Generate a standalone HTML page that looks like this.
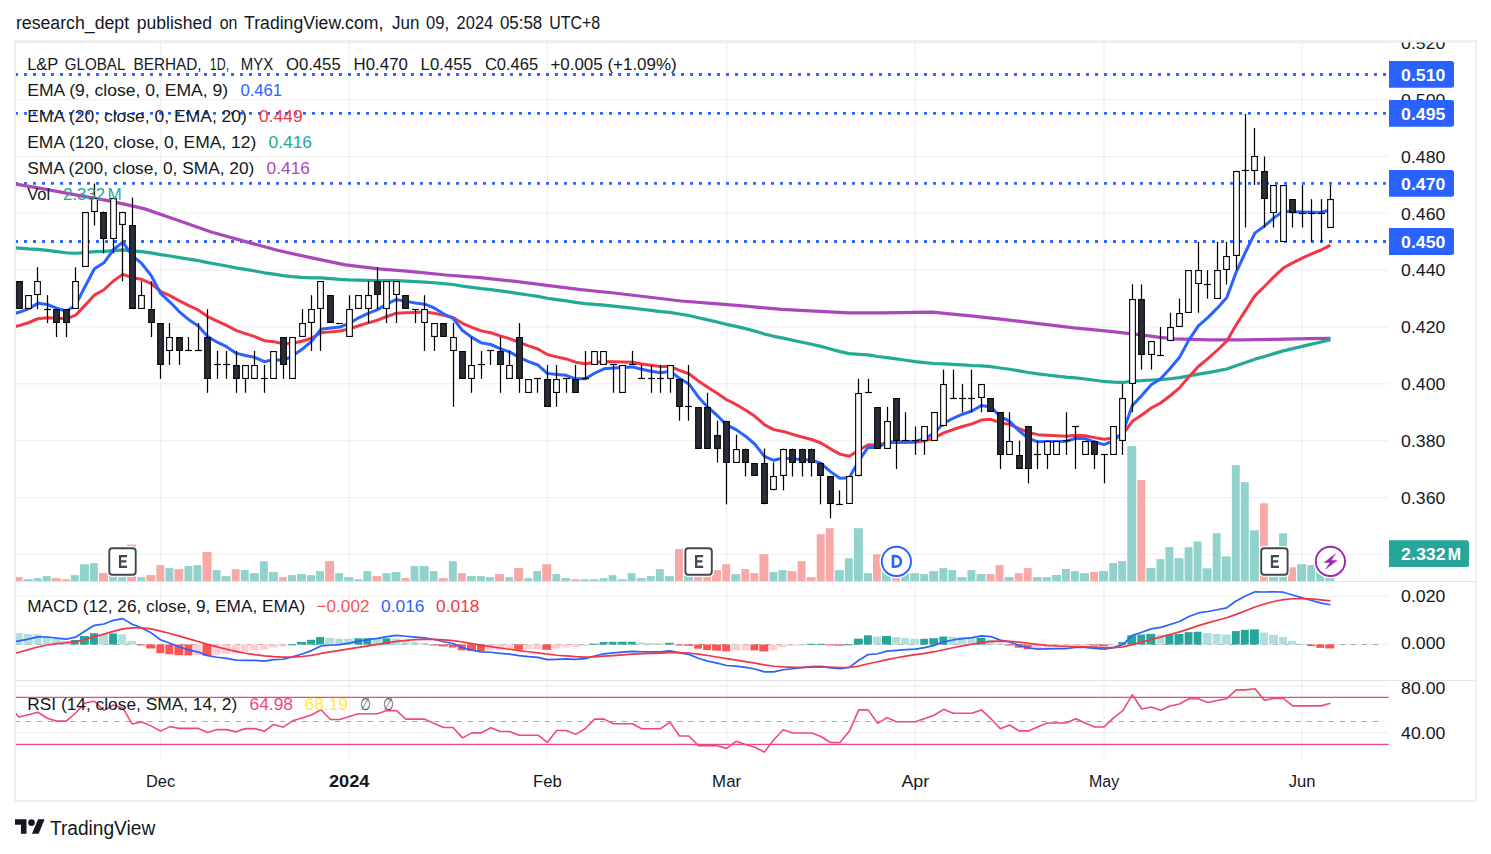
<!DOCTYPE html>
<html><head><meta charset="utf-8"><title>L&amp;P GLOBAL BERHAD chart</title><style>html,body{margin:0;padding:0;background:#fff}</style></head><body>
<svg width="1491" height="854" viewBox="0 0 1491 854" style="display:block">
<rect width="1491" height="854" fill="#fff"/>
<defs>
<clipPath id="cm"><rect x="16" y="42.6" width="1372.7" height="538.4"/></clipPath>
<clipPath id="cmacd"><rect x="16" y="582" width="1372.7" height="98.29999999999995"/></clipPath>
<clipPath id="crsi"><rect x="16" y="681" width="1372.7" height="78"/></clipPath>
<clipPath id="cax"><rect x="1388.7" y="42.6" width="86.79999999999995" height="538.4"/></clipPath>
</defs>
<rect x="159.93" y="42.6" width="1.2" height="716.4" fill="rgba(20,25,30,0.06)"/>
<rect x="348.62" y="42.6" width="1.2" height="716.4" fill="rgba(20,25,30,0.06)"/>
<rect x="546.76" y="42.6" width="1.2" height="716.4" fill="rgba(20,25,30,0.06)"/>
<rect x="726.02" y="42.6" width="1.2" height="716.4" fill="rgba(20,25,30,0.06)"/>
<rect x="914.73" y="42.6" width="1.2" height="716.4" fill="rgba(20,25,30,0.06)"/>
<rect x="1103.43" y="42.6" width="1.2" height="716.4" fill="rgba(20,25,30,0.06)"/>
<rect x="1301.56" y="42.6" width="1.2" height="716.4" fill="rgba(20,25,30,0.06)"/>
<rect x="16" y="42.2" width="1372.7" height="1.2" fill="rgba(20,25,30,0.06)"/>
<rect x="16" y="99.04" width="1372.7" height="1.2" fill="rgba(20,25,30,0.06)"/>
<rect x="16" y="155.88" width="1372.7" height="1.2" fill="rgba(20,25,30,0.06)"/>
<rect x="16" y="212.72" width="1372.7" height="1.2" fill="rgba(20,25,30,0.06)"/>
<rect x="16" y="269.56" width="1372.7" height="1.2" fill="rgba(20,25,30,0.06)"/>
<rect x="16" y="326.4" width="1372.7" height="1.2" fill="rgba(20,25,30,0.06)"/>
<rect x="16" y="383.24" width="1372.7" height="1.2" fill="rgba(20,25,30,0.06)"/>
<rect x="16" y="440.08" width="1372.7" height="1.2" fill="rgba(20,25,30,0.06)"/>
<rect x="16" y="496.92" width="1372.7" height="1.2" fill="rgba(20,25,30,0.06)"/>
<rect x="16" y="553.76" width="1372.7" height="1.2" fill="rgba(20,25,30,0.06)"/>
<rect x="16" y="595.7" width="1372.7" height="1.2" fill="rgba(20,25,30,0.06)"/>
<rect x="16" y="643.9" width="1372.7" height="1.2" fill="rgba(20,25,30,0.06)"/>
<rect x="16" y="685.12" width="1372.7" height="1.2" fill="rgba(20,25,30,0.06)"/>
<rect x="16" y="732.06" width="1372.7" height="1.2" fill="rgba(20,25,30,0.06)"/>
<g clip-path="url(#cm)">
<rect x="14.62" y="577.1" width="7.88" height="3.9" fill="#f7a9a7"/>
<rect x="23.62" y="579.2" width="9" height="1.8" fill="#92d2cc"/>
<rect x="33.75" y="578.1" width="7.88" height="2.9" fill="#92d2cc"/>
<rect x="42.75" y="576.1" width="7.88" height="4.9" fill="#92d2cc"/>
<rect x="51.75" y="578.1" width="9" height="2.9" fill="#f7a9a7"/>
<rect x="61.88" y="579.2" width="7.88" height="1.8" fill="#f7a9a7"/>
<rect x="70.88" y="575.1" width="7.88" height="5.9" fill="#92d2cc"/>
<rect x="79.88" y="564.2" width="9" height="16.8" fill="#92d2cc"/>
<rect x="90" y="563.2" width="7.88" height="17.8" fill="#92d2cc"/>
<rect x="99" y="573.1" width="9" height="7.9" fill="#f7a9a7"/>
<rect x="109.12" y="570.5" width="7.88" height="10.5" fill="#92d2cc"/>
<rect x="118.12" y="572" width="7.88" height="9" fill="#92d2cc"/>
<rect x="127.12" y="544.5" width="9" height="36.5" fill="#f7a9a7"/>
<rect x="137.25" y="577.1" width="7.88" height="3.9" fill="#92d2cc"/>
<rect x="146.25" y="575.1" width="9" height="5.9" fill="#f7a9a7"/>
<rect x="156.38" y="565.1" width="7.88" height="15.9" fill="#f7a9a7"/>
<rect x="165.38" y="568.1" width="7.88" height="12.9" fill="#92d2cc"/>
<rect x="174.38" y="569.1" width="9" height="11.9" fill="#f7a9a7"/>
<rect x="184.5" y="566.1" width="7.88" height="14.9" fill="#92d2cc"/>
<rect x="193.5" y="565.1" width="7.88" height="15.9" fill="#92d2cc"/>
<rect x="202.5" y="552" width="9" height="29" fill="#f7a9a7"/>
<rect x="212.62" y="570.1" width="7.88" height="10.9" fill="#92d2cc"/>
<rect x="221.62" y="576.1" width="9" height="4.9" fill="#92d2cc"/>
<rect x="231.75" y="569.1" width="7.88" height="11.9" fill="#f7a9a7"/>
<rect x="240.75" y="570.1" width="7.88" height="10.9" fill="#92d2cc"/>
<rect x="249.75" y="573.1" width="9" height="7.9" fill="#92d2cc"/>
<rect x="259.88" y="561.2" width="7.88" height="19.8" fill="#92d2cc"/>
<rect x="268.88" y="572.1" width="9" height="8.9" fill="#92d2cc"/>
<rect x="279" y="577.1" width="7.88" height="3.9" fill="#f7a9a7"/>
<rect x="288" y="575.1" width="7.88" height="5.9" fill="#92d2cc"/>
<rect x="297" y="574.1" width="9" height="6.9" fill="#92d2cc"/>
<rect x="307.12" y="575.1" width="7.88" height="5.9" fill="#92d2cc"/>
<rect x="316.12" y="571.1" width="7.88" height="9.9" fill="#92d2cc"/>
<rect x="325.12" y="561.2" width="9" height="19.8" fill="#f7a9a7"/>
<rect x="335.25" y="573.1" width="7.88" height="7.9" fill="#92d2cc"/>
<rect x="344.25" y="577.1" width="9" height="3.9" fill="#92d2cc"/>
<rect x="354.38" y="579.2" width="7.88" height="1.8" fill="#92d2cc"/>
<rect x="363.38" y="571.1" width="7.88" height="9.9" fill="#92d2cc"/>
<rect x="372.38" y="576.1" width="9" height="4.9" fill="#f7a9a7"/>
<rect x="382.5" y="573.1" width="7.88" height="7.9" fill="#92d2cc"/>
<rect x="391.5" y="572.1" width="9" height="8.9" fill="#92d2cc"/>
<rect x="401.62" y="578.1" width="7.88" height="2.9" fill="#f7a9a7"/>
<rect x="410.62" y="566.1" width="7.88" height="14.9" fill="#92d2cc"/>
<rect x="419.62" y="566.1" width="9" height="14.9" fill="#92d2cc"/>
<rect x="429.75" y="571.1" width="7.88" height="9.9" fill="#92d2cc"/>
<rect x="438.75" y="578.1" width="9" height="2.9" fill="#f7a9a7"/>
<rect x="448.88" y="561.2" width="7.88" height="19.8" fill="#92d2cc"/>
<rect x="457.88" y="573.1" width="7.88" height="7.9" fill="#f7a9a7"/>
<rect x="466.88" y="576.1" width="9" height="4.9" fill="#92d2cc"/>
<rect x="477" y="576.1" width="7.88" height="4.9" fill="#92d2cc"/>
<rect x="486" y="577.1" width="7.88" height="3.9" fill="#92d2cc"/>
<rect x="495" y="574.1" width="9" height="6.9" fill="#f7a9a7"/>
<rect x="505.12" y="577.1" width="7.88" height="3.9" fill="#92d2cc"/>
<rect x="514.12" y="568.1" width="9" height="12.9" fill="#f7a9a7"/>
<rect x="524.25" y="578.1" width="7.88" height="2.9" fill="#92d2cc"/>
<rect x="533.25" y="571.1" width="7.88" height="9.9" fill="#92d2cc"/>
<rect x="542.25" y="564.2" width="9" height="16.8" fill="#f7a9a7"/>
<rect x="552.38" y="574.1" width="7.88" height="6.9" fill="#92d2cc"/>
<rect x="561.38" y="578.1" width="9" height="2.9" fill="#92d2cc"/>
<rect x="571.5" y="579.2" width="7.88" height="1.8" fill="#f7a9a7"/>
<rect x="580.5" y="579.2" width="7.88" height="1.8" fill="#92d2cc"/>
<rect x="589.5" y="579.2" width="9" height="1.8" fill="#92d2cc"/>
<rect x="599.62" y="578.1" width="7.88" height="2.9" fill="#92d2cc"/>
<rect x="608.62" y="575.1" width="7.88" height="5.9" fill="#92d2cc"/>
<rect x="617.62" y="579.2" width="9" height="1.8" fill="#92d2cc"/>
<rect x="627.75" y="573.1" width="7.88" height="7.9" fill="#92d2cc"/>
<rect x="636.75" y="578.1" width="9" height="2.9" fill="#92d2cc"/>
<rect x="646.88" y="576.1" width="7.88" height="4.9" fill="#92d2cc"/>
<rect x="655.88" y="569.1" width="7.88" height="11.9" fill="#92d2cc"/>
<rect x="664.88" y="576.1" width="9" height="4.9" fill="#92d2cc"/>
<rect x="675" y="549.1" width="7.88" height="31.9" fill="#f7a9a7"/>
<rect x="684" y="576" width="9" height="5" fill="#92d2cc"/>
<rect x="694.12" y="557" width="7.88" height="24" fill="#f7a9a7"/>
<rect x="703.12" y="569" width="7.88" height="12" fill="#f7a9a7"/>
<rect x="712.12" y="570.1" width="9" height="10.9" fill="#f7a9a7"/>
<rect x="722.25" y="564.2" width="7.88" height="16.8" fill="#f7a9a7"/>
<rect x="731.25" y="574.1" width="9" height="6.9" fill="#92d2cc"/>
<rect x="741.38" y="569.1" width="7.88" height="11.9" fill="#f7a9a7"/>
<rect x="750.38" y="573.1" width="7.88" height="7.9" fill="#f7a9a7"/>
<rect x="759.38" y="554.2" width="9" height="26.8" fill="#f7a9a7"/>
<rect x="769.5" y="572.1" width="7.88" height="8.9" fill="#92d2cc"/>
<rect x="778.5" y="570.1" width="7.88" height="10.9" fill="#92d2cc"/>
<rect x="787.5" y="571.1" width="9" height="9.9" fill="#f7a9a7"/>
<rect x="797.62" y="561.2" width="7.88" height="19.8" fill="#f7a9a7"/>
<rect x="806.62" y="577.1" width="9" height="3.9" fill="#f7a9a7"/>
<rect x="816.75" y="534.2" width="7.88" height="46.8" fill="#f7a9a7"/>
<rect x="825.75" y="528.2" width="7.88" height="52.8" fill="#f7a9a7"/>
<rect x="834.75" y="570.1" width="9" height="10.9" fill="#92d2cc"/>
<rect x="844.88" y="558.2" width="7.88" height="22.8" fill="#92d2cc"/>
<rect x="853.88" y="528.2" width="9" height="52.8" fill="#92d2cc"/>
<rect x="864" y="573.1" width="7.88" height="7.9" fill="#92d2cc"/>
<rect x="873" y="554.2" width="7.88" height="26.8" fill="#f7a9a7"/>
<rect x="882" y="569" width="9" height="12" fill="#92d2cc"/>
<rect x="892.12" y="577" width="7.88" height="4" fill="#f7a9a7"/>
<rect x="901.12" y="572" width="7.88" height="9" fill="#92d2cc"/>
<rect x="910.12" y="573.1" width="9" height="7.9" fill="#92d2cc"/>
<rect x="920.25" y="574.1" width="7.88" height="6.9" fill="#92d2cc"/>
<rect x="929.25" y="571.1" width="9" height="9.9" fill="#92d2cc"/>
<rect x="939.38" y="568.1" width="7.88" height="12.9" fill="#92d2cc"/>
<rect x="948.38" y="570.1" width="7.88" height="10.9" fill="#92d2cc"/>
<rect x="957.38" y="577.1" width="9" height="3.9" fill="#92d2cc"/>
<rect x="967.5" y="570.1" width="7.88" height="10.9" fill="#92d2cc"/>
<rect x="976.5" y="574.1" width="9" height="6.9" fill="#92d2cc"/>
<rect x="986.62" y="574.1" width="7.88" height="6.9" fill="#f7a9a7"/>
<rect x="995.62" y="565.1" width="7.88" height="15.9" fill="#f7a9a7"/>
<rect x="1004.62" y="577.1" width="9" height="3.9" fill="#92d2cc"/>
<rect x="1014.75" y="573.1" width="7.88" height="7.9" fill="#f7a9a7"/>
<rect x="1023.75" y="568.1" width="7.88" height="12.9" fill="#f7a9a7"/>
<rect x="1032.75" y="577.1" width="9" height="3.9" fill="#92d2cc"/>
<rect x="1042.88" y="577.1" width="7.88" height="3.9" fill="#92d2cc"/>
<rect x="1051.88" y="575" width="9" height="6" fill="#92d2cc"/>
<rect x="1062" y="569" width="7.88" height="12" fill="#92d2cc"/>
<rect x="1071" y="571.1" width="7.88" height="9.9" fill="#92d2cc"/>
<rect x="1080" y="573.1" width="9" height="7.9" fill="#92d2cc"/>
<rect x="1090.12" y="572" width="7.88" height="9" fill="#f7a9a7"/>
<rect x="1099.12" y="571.1" width="9" height="9.9" fill="#92d2cc"/>
<rect x="1109.25" y="563" width="7.88" height="18" fill="#92d2cc"/>
<rect x="1118.25" y="561.1" width="7.88" height="19.9" fill="#92d2cc"/>
<rect x="1127.25" y="446.1" width="9" height="134.9" fill="#92d2cc"/>
<rect x="1137.38" y="480" width="7.88" height="101" fill="#f7a9a7"/>
<rect x="1146.38" y="568.1" width="9" height="12.9" fill="#92d2cc"/>
<rect x="1156.5" y="559.1" width="7.88" height="21.9" fill="#92d2cc"/>
<rect x="1165.5" y="547.1" width="7.88" height="33.9" fill="#92d2cc"/>
<rect x="1174.5" y="558.1" width="9" height="22.9" fill="#92d2cc"/>
<rect x="1184.62" y="547.1" width="7.88" height="33.9" fill="#92d2cc"/>
<rect x="1193.62" y="541.4" width="7.88" height="39.6" fill="#92d2cc"/>
<rect x="1202.62" y="568.3" width="9" height="12.7" fill="#92d2cc"/>
<rect x="1212.75" y="533.2" width="7.88" height="47.8" fill="#92d2cc"/>
<rect x="1221.75" y="556.4" width="9" height="24.6" fill="#92d2cc"/>
<rect x="1231.88" y="465.1" width="7.88" height="115.9" fill="#92d2cc"/>
<rect x="1240.88" y="482.2" width="7.88" height="98.8" fill="#92d2cc"/>
<rect x="1249.88" y="530.3" width="9" height="50.7" fill="#92d2cc"/>
<rect x="1260" y="503.3" width="7.88" height="77.7" fill="#f7a9a7"/>
<rect x="1269" y="559" width="9" height="22" fill="#92d2cc"/>
<rect x="1279.12" y="533.3" width="7.88" height="47.7" fill="#92d2cc"/>
<rect x="1288.12" y="567.3" width="7.88" height="13.7" fill="#f7a9a7"/>
<rect x="1297.12" y="564.2" width="9" height="16.8" fill="#92d2cc"/>
<rect x="1307.25" y="565.1" width="7.88" height="15.9" fill="#92d2cc"/>
<rect x="1316.25" y="567" width="7.88" height="14" fill="#92d2cc"/>
<rect x="1325.25" y="553.6" width="9" height="27.4" fill="#92d2cc"/>
<line x1="15.05" y1="74.5" x2="1388.7" y2="74.5" stroke="#2962ff" stroke-width="2.9" stroke-dasharray="2.9 6.1"/>
<line x1="15.05" y1="113.4" x2="1388.7" y2="113.4" stroke="#2962ff" stroke-width="2.9" stroke-dasharray="2.9 6.1"/>
<line x1="15.05" y1="183.4" x2="1388.7" y2="183.4" stroke="#2962ff" stroke-width="2.9" stroke-dasharray="2.9 6.1"/>
<line x1="15.05" y1="241.5" x2="1388.7" y2="241.5" stroke="#2962ff" stroke-width="2.9" stroke-dasharray="2.9 6.1"/>
<path d="M14 183.8 L16 184.1 L43.5 188.8 L77 195.2 L110.6 201.2 L144 208.6 L177.7 220.3 L211.2 232 L244.7 241.4 L278.3 250.5 L311.8 257.9 L345.3 264.9 L378.9 268.9 L412.4 271.6 L446 275 L480 277.6 L513.5 281.2 L547 285.3 L580.6 289.6 L614.1 293 L647.7 297 L681.2 301 L714.7 303.7 L748.3 306.4 L781.8 309.4 L815.3 311.1 L848.9 312.8 L882.4 312.8 L916 312.4 L932.7 312.1 L949.5 313.8 L973.5 316.1 L1007 319.8 L1040.6 323.8 L1074.1 327.9 L1107.7 331.2 L1141.2 334.9 L1158 337.2 L1174.7 338.9 L1208.3 339.9 L1241.8 339.9 L1275.3 339.3 L1308.9 338.6 L1330.5 338.4" fill="none" stroke="#ab47bc" stroke-width="3.25" stroke-linejoin="round"/>
<path d="M9.56 247.48 L19 248.1 L28.44 248.88 L37.87 249.41 L47.3 250.4 L56.74 251.6 L66.18 252.78 L75.61 253.25 L85.05 252.56 L94.48 251.65 L103.92 251.45 L113.35 250.56 L122.79 249.92 L132.22 250.89 L141.66 251.63 L151.09 252.81 L160.53 254.66 L169.96 256.02 L179.4 257.59 L188.83 259.13 L198.27 260.65 L207.7 262.61 L217.14 264.3 L226.57 265.96 L236.01 267.83 L245.44 269.43 L254.88 271.01 L264.31 272.79 L273.75 274.08 L283.18 275.58 L292.62 276.6 L302.05 277.37 L311.49 277.89 L320.92 277.95 L330.36 278.69 L339.79 279.43 L349.23 279.92 L358.66 280.17 L368.1 280.42 L377.53 280.66 L386.97 280.67 L396.4 280.68 L405.84 281.15 L415.27 281.61 L424.71 282.07 L434.14 282.75 L443.58 283.64 L453.01 284.53 L462.45 286.09 L471.88 287.39 L481.31 288.67 L490.75 289.7 L500.19 290.94 L509.62 292.16 L519.06 293.6 L528.49 295.01 L537.93 296.39 L547.36 298.22 L556.8 299.55 L566.23 300.86 L575.67 302.38 L585.1 303.64 L594.54 304.43 L603.97 305.19 L613.41 306.18 L622.84 307.15 L632.27 308.11 L641.71 309.28 L651.14 310.43 L660.58 311.56 L670.01 312.44 L679.45 314 L688.88 315.53 L698.32 317.73 L707.75 319.89 L717.19 322.02 L726.62 324.34 L736.06 326.39 L745.5 328.64 L754.93 331.09 L764.37 333.95 L773.8 336.31 L783.24 338.16 L792.67 340.22 L802.11 342.24 L811.54 344.23 L820.98 346.41 L830.41 349.02 L839.85 351.59 L849.28 353.66 L858.72 354.3 L868.15 354.94 L877.59 356.49 L887.02 357.55 L896.46 358.92 L905.89 360.27 L915.33 361.6 L924.76 362.67 L934.2 363.49 L943.63 363.83 L953.07 364.4 L962.5 364.95 L971.94 365.5 L981.37 365.8 L990.81 366.57 L1000.24 368.03 L1009.68 369.23 L1019.11 370.88 L1028.55 372.5 L1037.98 373.87 L1047.41 374.97 L1056.85 376.06 L1066.29 377.12 L1075.72 377.94 L1085.15 378.98 L1094.59 380.23 L1104.03 381.47 L1113.46 382.21 L1122.89 382.47 L1132.33 381.09 L1141.77 380.66 L1151.2 380.01 L1160.63 379.6 L1170.07 378.73 L1179.51 377.64 L1188.94 375.87 L1198.38 374.12 L1207.81 372.64 L1217.25 370.94 L1226.68 369.04 L1236.12 365.76 L1245.55 362.54 L1254.99 359.13 L1264.42 356.49 L1273.86 353.65 L1283.29 350.86 L1292.73 348.59 L1302.16 346.35 L1311.6 344.15 L1321.03 341.99 L1330.47 339.63" fill="none" stroke="#22ab94" stroke-width="3.2" stroke-linejoin="round"/>
<path d="M9.56 327.92 L19 325.6 L28.44 322.7 L37.87 318.75 L47.3 317.84 L56.74 318.34 L66.18 318.79 L75.61 315.21 L85.05 305.34 L94.48 295.07 L103.92 289.77 L113.35 280.99 L122.79 274.37 L132.22 277.68 L141.66 279.35 L151.09 283.52 L160.53 291.27 L169.96 295.62 L179.4 300.89 L188.83 305.66 L198.27 309.98 L207.7 316.54 L217.14 321.14 L226.57 325.31 L236.01 330.41 L245.44 333.69 L254.88 336.67 L264.31 340.68 L273.75 341.66 L283.18 343.88 L292.62 343.22 L302.05 341.3 L311.49 338.24 L320.92 332.81 L330.36 331.88 L339.79 331.04 L349.23 328.96 L358.66 325.74 L368.1 322.83 L377.53 320.2 L386.97 316.49 L396.4 313.13 L405.84 312.75 L415.27 312.4 L424.71 312.09 L434.14 313.14 L443.58 315.41 L453.01 317.47 L462.45 323.32 L471.88 327.28 L481.31 330.86 L490.75 332.77 L500.19 335.84 L509.62 338.6 L519.06 342.44 L528.49 345.9 L537.93 349.04 L547.36 354.54 L556.8 356.85 L566.23 358.95 L575.67 362.17 L585.1 363.76 L594.54 362.54 L603.97 361.44 L613.41 361.77 L622.84 362.07 L632.27 362.34 L641.71 363.91 L651.14 365.33 L660.58 366.62 L670.01 366.46 L679.45 370.29 L688.88 373.76 L698.32 380.89 L707.75 387.33 L717.19 393.17 L726.62 399.77 L736.06 404.42 L745.5 409.95 L754.93 416.29 L764.37 424.67 L773.8 429.6 L783.24 431.41 L792.67 434.37 L802.11 437.05 L811.54 439.48 L820.98 443 L830.41 448.84 L839.85 454.13 L849.28 456.26 L858.72 450.21 L868.15 444.74 L877.59 445.11 L887.02 442.78 L896.46 442.58 L905.89 442.4 L915.33 442.24 L924.76 440.73 L934.2 438.02 L943.63 432.86 L953.07 429.55 L962.5 426.55 L971.94 423.83 L981.37 420.02 L990.81 419.29 L1000.24 422.68 L1009.68 424.39 L1019.11 428.65 L1028.55 432.5 L1037.98 434.63 L1047.41 435.21 L1056.85 435.73 L1066.29 436.2 L1075.72 435.27 L1085.15 435.79 L1094.59 437.61 L1104.03 439.25 L1113.46 438.04 L1122.89 434.23 L1132.33 421.31 L1141.77 415.03 L1151.2 408 L1160.63 403 L1170.07 395.76 L1179.51 387.86 L1188.94 376.65 L1198.38 366.51 L1207.81 358.68 L1217.25 350.25 L1226.68 341.27 L1236.12 325.03 L1245.55 310.33 L1254.99 295.67 L1264.42 286.48 L1273.86 276.8 L1283.29 268.05 L1292.73 262.84 L1302.16 258.12 L1311.6 253.86 L1321.03 250 L1330.47 245.15" fill="none" stroke="#f23645" stroke-width="3.0" stroke-linejoin="round"/>
<path d="M9.56 315.04 L19 312.3 L28.44 308.88 L37.87 303.35 L47.3 304.51 L56.74 308.22 L66.18 311.19 L75.61 305.2 L85.05 286.46 L94.48 268.69 L103.92 262.83 L113.35 249.78 L122.79 242.13 L132.22 255.53 L141.66 263.46 L151.09 275.38 L160.53 293.29 L169.96 302.03 L179.4 311.82 L188.83 319.65 L198.27 325.91 L207.7 336.5 L217.14 342.18 L226.57 346.72 L236.01 353.15 L245.44 355.5 L254.88 357.38 L264.31 361.68 L273.75 359.53 L283.18 360.61 L292.62 355.89 L302.05 349.33 L311.49 341.29 L320.92 329.28 L330.36 328.04 L339.79 327.04 L349.23 323.46 L358.66 317.81 L368.1 313.28 L377.53 309.66 L386.97 303.98 L396.4 299.43 L405.84 301.37 L415.27 302.92 L424.71 304.16 L434.14 307.95 L443.58 313.76 L453.01 318.41 L462.45 330.5 L471.88 337.38 L481.31 342.89 L490.75 344.5 L500.19 348.58 L509.62 351.85 L519.06 357.25 L528.49 361.57 L537.93 365.02 L547.36 373.37 L556.8 374.46 L566.23 375.34 L575.67 378.83 L585.1 378.84 L594.54 373.26 L603.97 368.8 L613.41 368.02 L622.84 367.4 L632.27 366.9 L641.71 369.29 L651.14 371.2 L660.58 372.73 L670.01 371.17 L679.45 378.28 L688.88 383.97 L698.32 396.89 L707.75 407.23 L717.19 415.5 L726.62 424.9 L736.06 429.63 L745.5 436.21 L754.93 444.26 L764.37 456.28 L773.8 460.31 L783.24 457.97 L792.67 458.88 L802.11 459.6 L811.54 460.19 L820.98 463.44 L830.41 471.62 L839.85 478.17 L849.28 477.83 L858.72 460.82 L868.15 447.21 L877.59 447.49 L887.02 442.12 L896.46 441.84 L905.89 441.6 L915.33 441.42 L924.76 438.43 L934.2 433.2 L943.63 423.32 L953.07 418.27 L962.5 414.23 L971.94 410.99 L981.37 405.56 L990.81 406.9 L1000.24 416.5 L1009.68 421.33 L1019.11 430.89 L1028.55 438.53 L1037.98 441.8 L1047.41 441.58 L1056.85 441.4 L1066.29 441.25 L1075.72 438.3 L1085.15 438.77 L1094.59 442 L1104.03 444.58 L1113.46 440.95 L1122.89 432.37 L1132.33 405.61 L1141.77 395.58 L1151.2 384.7 L1160.63 378.85 L1170.07 368.48 L1179.51 357.34 L1188.94 339.9 L1198.38 325.95 L1207.81 317.64 L1217.25 308.14 L1226.68 297.7 L1236.12 272.3 L1245.55 251.98 L1254.99 232.88 L1264.42 226.13 L1273.86 217.88 L1283.29 211.28 L1292.73 211.69 L1302.16 212.02 L1311.6 212.28 L1321.03 212.49 L1330.47 209.81" fill="none" stroke="#2962ff" stroke-width="3.0" stroke-linejoin="round"/>
<rect x="16.1" y="281" width="6.8" height="28" fill="#000"/>
<rect x="17.2" y="282.1" width="4.6" height="25.8" fill="#2a2e39"/>
<rect x="25.1" y="295" width="6.8" height="14" fill="#000"/>
<rect x="26.2" y="296.1" width="4.6" height="11.8" fill="#fff"/>
<rect x="36.88" y="267.3" width="1.24" height="41.83" fill="#000"/>
<rect x="34.1" y="281" width="6.8" height="14" fill="#000"/>
<rect x="35.2" y="282.1" width="4.6" height="11.8" fill="#fff"/>
<rect x="46.88" y="295.18" width="1.24" height="27.89" fill="#000"/>
<rect x="44.1" y="308.9" width="6.8" height="1.2" fill="#000"/>
<rect x="55.88" y="309.13" width="1.24" height="27.89" fill="#000"/>
<rect x="53.1" y="309" width="6.8" height="14" fill="#000"/>
<rect x="54.2" y="310.1" width="4.6" height="11.8" fill="#2a2e39"/>
<rect x="65.88" y="309.13" width="1.24" height="27.89" fill="#000"/>
<rect x="63.1" y="309" width="6.8" height="14" fill="#000"/>
<rect x="64.2" y="310.1" width="4.6" height="11.8" fill="#2a2e39"/>
<rect x="74.88" y="267.3" width="1.24" height="41.83" fill="#000"/>
<rect x="72.1" y="281" width="6.8" height="28" fill="#000"/>
<rect x="73.2" y="282.1" width="4.6" height="25.8" fill="#fff"/>
<rect x="82.1" y="212" width="6.8" height="55" fill="#000"/>
<rect x="83.2" y="213.1" width="4.6" height="52.8" fill="#fff"/>
<rect x="93.88" y="183.63" width="1.24" height="41.83" fill="#000"/>
<rect x="91.1" y="198" width="6.8" height="14" fill="#000"/>
<rect x="92.2" y="199.1" width="4.6" height="11.8" fill="#fff"/>
<rect x="102.88" y="211.52" width="1.24" height="41.83" fill="#000"/>
<rect x="100.1" y="212" width="6.8" height="27" fill="#000"/>
<rect x="101.2" y="213.1" width="4.6" height="24.8" fill="#2a2e39"/>
<rect x="112.88" y="197.58" width="1.24" height="55.78" fill="#000"/>
<rect x="110.1" y="198" width="6.8" height="41" fill="#000"/>
<rect x="111.2" y="199.1" width="4.6" height="38.8" fill="#fff"/>
<rect x="121.88" y="211.52" width="1.24" height="69.72" fill="#000"/>
<rect x="119.1" y="212" width="6.8" height="13" fill="#000"/>
<rect x="120.2" y="213.1" width="4.6" height="10.8" fill="#fff"/>
<rect x="131.88" y="197.58" width="1.24" height="111.55" fill="#000"/>
<rect x="129.1" y="225" width="6.8" height="84" fill="#000"/>
<rect x="130.2" y="226.1" width="4.6" height="81.8" fill="#2a2e39"/>
<rect x="140.88" y="281.24" width="1.24" height="27.89" fill="#000"/>
<rect x="138.1" y="295" width="6.8" height="14" fill="#000"/>
<rect x="139.2" y="296.1" width="4.6" height="11.8" fill="#fff"/>
<rect x="150.88" y="281.24" width="1.24" height="55.78" fill="#000"/>
<rect x="148.1" y="309" width="6.8" height="14" fill="#000"/>
<rect x="149.2" y="310.1" width="4.6" height="11.8" fill="#2a2e39"/>
<rect x="159.88" y="323.07" width="1.24" height="55.78" fill="#000"/>
<rect x="157.1" y="323" width="6.8" height="42" fill="#000"/>
<rect x="158.2" y="324.1" width="4.6" height="39.8" fill="#2a2e39"/>
<rect x="168.88" y="323.07" width="1.24" height="41.83" fill="#000"/>
<rect x="166.1" y="337" width="6.8" height="14" fill="#000"/>
<rect x="167.2" y="338.1" width="4.6" height="11.8" fill="#fff"/>
<rect x="178.88" y="337.02" width="1.24" height="27.89" fill="#000"/>
<rect x="176.1" y="337" width="6.8" height="14" fill="#000"/>
<rect x="177.2" y="338.1" width="4.6" height="11.8" fill="#2a2e39"/>
<rect x="187.88" y="337.02" width="1.24" height="13.94" fill="#000"/>
<rect x="185.1" y="349.9" width="6.8" height="1.2" fill="#000"/>
<rect x="197.88" y="323.07" width="1.24" height="27.89" fill="#000"/>
<rect x="195.1" y="349.9" width="6.8" height="1.2" fill="#000"/>
<rect x="206.88" y="309.13" width="1.24" height="83.67" fill="#000"/>
<rect x="204.1" y="337" width="6.8" height="42" fill="#000"/>
<rect x="205.2" y="338.1" width="4.6" height="39.8" fill="#2a2e39"/>
<rect x="216.88" y="350.96" width="1.24" height="27.89" fill="#000"/>
<rect x="214.1" y="363.9" width="6.8" height="1.2" fill="#000"/>
<rect x="225.88" y="350.96" width="1.24" height="27.89" fill="#000"/>
<rect x="223.1" y="363.9" width="6.8" height="1.2" fill="#000"/>
<rect x="235.88" y="350.96" width="1.24" height="41.83" fill="#000"/>
<rect x="233.1" y="365" width="6.8" height="14" fill="#000"/>
<rect x="234.2" y="366.1" width="4.6" height="11.8" fill="#2a2e39"/>
<rect x="244.88" y="364.91" width="1.24" height="27.89" fill="#000"/>
<rect x="242.1" y="365" width="6.8" height="14" fill="#000"/>
<rect x="243.2" y="366.1" width="4.6" height="11.8" fill="#fff"/>
<rect x="253.88" y="350.96" width="1.24" height="27.89" fill="#000"/>
<rect x="251.1" y="365" width="6.8" height="14" fill="#000"/>
<rect x="252.2" y="366.1" width="4.6" height="11.8" fill="#fff"/>
<rect x="263.88" y="364.91" width="1.24" height="27.89" fill="#000"/>
<rect x="261.1" y="377.9" width="6.8" height="1.2" fill="#000"/>
<rect x="270.1" y="351" width="6.8" height="28" fill="#000"/>
<rect x="271.2" y="352.1" width="4.6" height="25.8" fill="#fff"/>
<rect x="282.88" y="337.02" width="1.24" height="41.83" fill="#000"/>
<rect x="280.1" y="337" width="6.8" height="28" fill="#000"/>
<rect x="281.2" y="338.1" width="4.6" height="25.8" fill="#2a2e39"/>
<rect x="289.1" y="337" width="6.8" height="42" fill="#000"/>
<rect x="290.2" y="338.1" width="4.6" height="39.8" fill="#fff"/>
<rect x="301.88" y="309.13" width="1.24" height="27.89" fill="#000"/>
<rect x="299.1" y="323" width="6.8" height="14" fill="#000"/>
<rect x="300.2" y="324.1" width="4.6" height="11.8" fill="#fff"/>
<rect x="310.88" y="295.18" width="1.24" height="55.78" fill="#000"/>
<rect x="308.1" y="309" width="6.8" height="14" fill="#000"/>
<rect x="309.2" y="310.1" width="4.6" height="11.8" fill="#fff"/>
<rect x="319.88" y="281.24" width="1.24" height="69.72" fill="#000"/>
<rect x="317.1" y="281" width="6.8" height="28" fill="#000"/>
<rect x="318.2" y="282.1" width="4.6" height="25.8" fill="#fff"/>
<rect x="327.1" y="295" width="6.8" height="28" fill="#000"/>
<rect x="328.2" y="296.1" width="4.6" height="25.8" fill="#2a2e39"/>
<rect x="336.1" y="322.9" width="6.8" height="1.2" fill="#000"/>
<rect x="348.88" y="295.18" width="1.24" height="41.83" fill="#000"/>
<rect x="346.1" y="309" width="6.8" height="28" fill="#000"/>
<rect x="347.2" y="310.1" width="4.6" height="25.8" fill="#fff"/>
<rect x="355.1" y="295" width="6.8" height="14" fill="#000"/>
<rect x="356.2" y="296.1" width="4.6" height="11.8" fill="#fff"/>
<rect x="367.88" y="281.24" width="1.24" height="41.83" fill="#000"/>
<rect x="365.1" y="295" width="6.8" height="14" fill="#000"/>
<rect x="366.2" y="296.1" width="4.6" height="11.8" fill="#fff"/>
<rect x="376.88" y="267.3" width="1.24" height="41.83" fill="#000"/>
<rect x="374.1" y="281" width="6.8" height="14" fill="#000"/>
<rect x="375.2" y="282.1" width="4.6" height="11.8" fill="#2a2e39"/>
<rect x="385.88" y="281.24" width="1.24" height="41.83" fill="#000"/>
<rect x="383.1" y="281" width="6.8" height="28" fill="#000"/>
<rect x="384.2" y="282.1" width="4.6" height="25.8" fill="#fff"/>
<rect x="395.88" y="281.24" width="1.24" height="41.83" fill="#000"/>
<rect x="393.1" y="281" width="6.8" height="14" fill="#000"/>
<rect x="394.2" y="282.1" width="4.6" height="11.8" fill="#fff"/>
<rect x="402.1" y="295" width="6.8" height="14" fill="#000"/>
<rect x="403.2" y="296.1" width="4.6" height="11.8" fill="#2a2e39"/>
<rect x="414.88" y="309.13" width="1.24" height="13.94" fill="#000"/>
<rect x="412.1" y="308.9" width="6.8" height="1.2" fill="#000"/>
<rect x="423.88" y="295.18" width="1.24" height="55.78" fill="#000"/>
<rect x="421.1" y="309" width="6.8" height="14" fill="#000"/>
<rect x="422.2" y="310.1" width="4.6" height="11.8" fill="#fff"/>
<rect x="433.88" y="323.07" width="1.24" height="27.89" fill="#000"/>
<rect x="431.1" y="323" width="6.8" height="14" fill="#000"/>
<rect x="432.2" y="324.1" width="4.6" height="11.8" fill="#fff"/>
<rect x="440.1" y="323" width="6.8" height="14" fill="#000"/>
<rect x="441.2" y="324.1" width="4.6" height="11.8" fill="#2a2e39"/>
<rect x="452.88" y="323.07" width="1.24" height="83.67" fill="#000"/>
<rect x="450.1" y="337" width="6.8" height="14" fill="#000"/>
<rect x="451.2" y="338.1" width="4.6" height="11.8" fill="#fff"/>
<rect x="459.1" y="351" width="6.8" height="28" fill="#000"/>
<rect x="460.2" y="352.1" width="4.6" height="25.8" fill="#2a2e39"/>
<rect x="470.88" y="337.02" width="1.24" height="55.78" fill="#000"/>
<rect x="468.1" y="365" width="6.8" height="14" fill="#000"/>
<rect x="469.2" y="366.1" width="4.6" height="11.8" fill="#fff"/>
<rect x="480.88" y="350.96" width="1.24" height="27.89" fill="#000"/>
<rect x="478.1" y="363.9" width="6.8" height="1.2" fill="#000"/>
<rect x="489.88" y="350.96" width="1.24" height="13.94" fill="#000"/>
<rect x="487.1" y="349.9" width="6.8" height="1.2" fill="#000"/>
<rect x="499.88" y="337.02" width="1.24" height="55.78" fill="#000"/>
<rect x="497.1" y="351" width="6.8" height="14" fill="#000"/>
<rect x="498.2" y="352.1" width="4.6" height="11.8" fill="#2a2e39"/>
<rect x="508.88" y="350.96" width="1.24" height="27.89" fill="#000"/>
<rect x="506.1" y="365" width="6.8" height="14" fill="#000"/>
<rect x="507.2" y="366.1" width="4.6" height="11.8" fill="#fff"/>
<rect x="518.88" y="323.07" width="1.24" height="69.72" fill="#000"/>
<rect x="516.1" y="337" width="6.8" height="42" fill="#000"/>
<rect x="517.2" y="338.1" width="4.6" height="39.8" fill="#2a2e39"/>
<rect x="525.1" y="379" width="6.8" height="14" fill="#000"/>
<rect x="526.2" y="380.1" width="4.6" height="11.8" fill="#fff"/>
<rect x="536.88" y="378.85" width="1.24" height="13.94" fill="#000"/>
<rect x="534.1" y="377.9" width="6.8" height="1.2" fill="#000"/>
<rect x="546.88" y="364.91" width="1.24" height="41.83" fill="#000"/>
<rect x="544.1" y="379" width="6.8" height="28" fill="#000"/>
<rect x="545.2" y="380.1" width="4.6" height="25.8" fill="#2a2e39"/>
<rect x="555.88" y="364.91" width="1.24" height="41.83" fill="#000"/>
<rect x="553.1" y="379" width="6.8" height="14" fill="#000"/>
<rect x="554.2" y="380.1" width="4.6" height="11.8" fill="#fff"/>
<rect x="565.88" y="378.85" width="1.24" height="13.94" fill="#000"/>
<rect x="563.1" y="377.9" width="6.8" height="1.2" fill="#000"/>
<rect x="574.88" y="364.91" width="1.24" height="27.89" fill="#000"/>
<rect x="572.1" y="379" width="6.8" height="14" fill="#000"/>
<rect x="573.2" y="380.1" width="4.6" height="11.8" fill="#2a2e39"/>
<rect x="584.88" y="350.96" width="1.24" height="27.89" fill="#000"/>
<rect x="582.1" y="377.9" width="6.8" height="1.2" fill="#000"/>
<rect x="591.1" y="351" width="6.8" height="14" fill="#000"/>
<rect x="592.2" y="352.1" width="4.6" height="11.8" fill="#fff"/>
<rect x="600.1" y="351" width="6.8" height="14" fill="#000"/>
<rect x="601.2" y="352.1" width="4.6" height="11.8" fill="#fff"/>
<rect x="612.88" y="364.91" width="1.24" height="27.89" fill="#000"/>
<rect x="610.1" y="363.9" width="6.8" height="1.2" fill="#000"/>
<rect x="619.1" y="365" width="6.8" height="28" fill="#000"/>
<rect x="620.2" y="366.1" width="4.6" height="25.8" fill="#fff"/>
<rect x="631.88" y="350.96" width="1.24" height="13.94" fill="#000"/>
<rect x="629.1" y="363.9" width="6.8" height="1.2" fill="#000"/>
<rect x="640.88" y="364.91" width="1.24" height="13.94" fill="#000"/>
<rect x="638.1" y="377.9" width="6.8" height="1.2" fill="#000"/>
<rect x="650.88" y="364.91" width="1.24" height="27.89" fill="#000"/>
<rect x="648.1" y="377.9" width="6.8" height="1.2" fill="#000"/>
<rect x="659.88" y="364.91" width="1.24" height="27.89" fill="#000"/>
<rect x="657.1" y="377.9" width="6.8" height="1.2" fill="#000"/>
<rect x="669.88" y="364.91" width="1.24" height="27.89" fill="#000"/>
<rect x="667.1" y="365" width="6.8" height="14" fill="#000"/>
<rect x="668.2" y="366.1" width="4.6" height="11.8" fill="#fff"/>
<rect x="678.88" y="378.85" width="1.24" height="41.83" fill="#000"/>
<rect x="676.1" y="379" width="6.8" height="28" fill="#000"/>
<rect x="677.2" y="380.1" width="4.6" height="25.8" fill="#2a2e39"/>
<rect x="687.88" y="364.91" width="1.24" height="55.78" fill="#000"/>
<rect x="685.1" y="405.9" width="6.8" height="1.2" fill="#000"/>
<rect x="695.1" y="407" width="6.8" height="42" fill="#000"/>
<rect x="696.2" y="408.1" width="4.6" height="39.8" fill="#2a2e39"/>
<rect x="706.88" y="392.79" width="1.24" height="55.78" fill="#000"/>
<rect x="704.1" y="407" width="6.8" height="42" fill="#000"/>
<rect x="705.2" y="408.1" width="4.6" height="39.8" fill="#2a2e39"/>
<rect x="716.88" y="420.68" width="1.24" height="41.83" fill="#000"/>
<rect x="714.1" y="435" width="6.8" height="14" fill="#000"/>
<rect x="715.2" y="436.1" width="4.6" height="11.8" fill="#2a2e39"/>
<rect x="725.88" y="420.68" width="1.24" height="83.67" fill="#000"/>
<rect x="723.1" y="421" width="6.8" height="42" fill="#000"/>
<rect x="724.2" y="422.1" width="4.6" height="39.8" fill="#2a2e39"/>
<rect x="735.88" y="434.63" width="1.24" height="27.89" fill="#000"/>
<rect x="733.1" y="449" width="6.8" height="14" fill="#000"/>
<rect x="734.2" y="450.1" width="4.6" height="11.8" fill="#fff"/>
<rect x="744.88" y="448.57" width="1.24" height="27.89" fill="#000"/>
<rect x="742.1" y="449" width="6.8" height="14" fill="#000"/>
<rect x="743.2" y="450.1" width="4.6" height="11.8" fill="#2a2e39"/>
<rect x="751.1" y="463" width="6.8" height="13" fill="#000"/>
<rect x="752.2" y="464.1" width="4.6" height="10.8" fill="#2a2e39"/>
<rect x="763.88" y="448.57" width="1.24" height="55.78" fill="#000"/>
<rect x="761.1" y="463" width="6.8" height="41" fill="#000"/>
<rect x="762.2" y="464.1" width="4.6" height="38.8" fill="#2a2e39"/>
<rect x="772.88" y="462.51" width="1.24" height="27.89" fill="#000"/>
<rect x="770.1" y="476" width="6.8" height="14" fill="#000"/>
<rect x="771.2" y="477.1" width="4.6" height="11.8" fill="#fff"/>
<rect x="782.88" y="448.57" width="1.24" height="41.83" fill="#000"/>
<rect x="780.1" y="449" width="6.8" height="27" fill="#000"/>
<rect x="781.2" y="450.1" width="4.6" height="24.8" fill="#fff"/>
<rect x="791.88" y="448.57" width="1.24" height="27.89" fill="#000"/>
<rect x="789.1" y="449" width="6.8" height="14" fill="#000"/>
<rect x="790.2" y="450.1" width="4.6" height="11.8" fill="#2a2e39"/>
<rect x="801.88" y="448.57" width="1.24" height="27.89" fill="#000"/>
<rect x="799.1" y="449" width="6.8" height="14" fill="#000"/>
<rect x="800.2" y="450.1" width="4.6" height="11.8" fill="#2a2e39"/>
<rect x="810.88" y="448.57" width="1.24" height="27.89" fill="#000"/>
<rect x="808.1" y="449" width="6.8" height="14" fill="#000"/>
<rect x="809.2" y="450.1" width="4.6" height="11.8" fill="#2a2e39"/>
<rect x="819.88" y="462.51" width="1.24" height="41.83" fill="#000"/>
<rect x="817.1" y="463" width="6.8" height="13" fill="#000"/>
<rect x="818.2" y="464.1" width="4.6" height="10.8" fill="#2a2e39"/>
<rect x="829.88" y="476.46" width="1.24" height="41.83" fill="#000"/>
<rect x="827.1" y="476" width="6.8" height="28" fill="#000"/>
<rect x="828.2" y="477.1" width="4.6" height="25.8" fill="#2a2e39"/>
<rect x="838.88" y="490.4" width="1.24" height="13.94" fill="#000"/>
<rect x="836.1" y="503.9" width="6.8" height="1.2" fill="#000"/>
<rect x="846.1" y="476" width="6.8" height="28" fill="#000"/>
<rect x="847.2" y="477.1" width="4.6" height="25.8" fill="#fff"/>
<rect x="857.88" y="378.85" width="1.24" height="97.61" fill="#000"/>
<rect x="855.1" y="393" width="6.8" height="83" fill="#000"/>
<rect x="856.2" y="394.1" width="4.6" height="80.8" fill="#fff"/>
<rect x="867.88" y="378.85" width="1.24" height="13.94" fill="#000"/>
<rect x="865.1" y="391.9" width="6.8" height="1.2" fill="#000"/>
<rect x="874.1" y="407" width="6.8" height="42" fill="#000"/>
<rect x="875.2" y="408.1" width="4.6" height="39.8" fill="#2a2e39"/>
<rect x="886.88" y="406.74" width="1.24" height="41.83" fill="#000"/>
<rect x="884.1" y="421" width="6.8" height="28" fill="#000"/>
<rect x="885.2" y="422.1" width="4.6" height="25.8" fill="#fff"/>
<rect x="895.88" y="398.05" width="1.24" height="71.05" fill="#000"/>
<rect x="893.1" y="398" width="6.8" height="43" fill="#000"/>
<rect x="894.2" y="399.1" width="4.6" height="40.8" fill="#2a2e39"/>
<rect x="904.88" y="412.26" width="1.24" height="28.42" fill="#000"/>
<rect x="902.1" y="439.9" width="6.8" height="1.2" fill="#000"/>
<rect x="914.88" y="426.47" width="1.24" height="28.42" fill="#000"/>
<rect x="912.1" y="439.9" width="6.8" height="1.2" fill="#000"/>
<rect x="923.88" y="426.47" width="1.24" height="28.42" fill="#000"/>
<rect x="921.1" y="426" width="6.8" height="15" fill="#000"/>
<rect x="922.2" y="427.1" width="4.6" height="12.8" fill="#fff"/>
<rect x="931.1" y="412" width="6.8" height="29" fill="#000"/>
<rect x="932.2" y="413.1" width="4.6" height="26.8" fill="#fff"/>
<rect x="942.88" y="369.63" width="1.24" height="56.84" fill="#000"/>
<rect x="940.1" y="384" width="6.8" height="42" fill="#000"/>
<rect x="941.2" y="385.1" width="4.6" height="39.8" fill="#fff"/>
<rect x="952.88" y="369.63" width="1.24" height="28.42" fill="#000"/>
<rect x="950.1" y="397.9" width="6.8" height="1.2" fill="#000"/>
<rect x="961.88" y="383.84" width="1.24" height="28.42" fill="#000"/>
<rect x="959.1" y="397.9" width="6.8" height="1.2" fill="#000"/>
<rect x="970.88" y="369.63" width="1.24" height="42.63" fill="#000"/>
<rect x="968.1" y="397.9" width="6.8" height="1.2" fill="#000"/>
<rect x="980.88" y="383.84" width="1.24" height="28.42" fill="#000"/>
<rect x="978.1" y="384" width="6.8" height="14" fill="#000"/>
<rect x="979.2" y="385.1" width="4.6" height="11.8" fill="#fff"/>
<rect x="987.1" y="398" width="6.8" height="14" fill="#000"/>
<rect x="988.2" y="399.1" width="4.6" height="11.8" fill="#2a2e39"/>
<rect x="999.88" y="412.26" width="1.24" height="56.84" fill="#000"/>
<rect x="997.1" y="412" width="6.8" height="43" fill="#000"/>
<rect x="998.2" y="413.1" width="4.6" height="40.8" fill="#2a2e39"/>
<rect x="1008.88" y="412.26" width="1.24" height="42.63" fill="#000"/>
<rect x="1006.1" y="441" width="6.8" height="14" fill="#000"/>
<rect x="1007.2" y="442.1" width="4.6" height="11.8" fill="#fff"/>
<rect x="1018.88" y="440.68" width="1.24" height="28.42" fill="#000"/>
<rect x="1016.1" y="455" width="6.8" height="14" fill="#000"/>
<rect x="1017.2" y="456.1" width="4.6" height="11.8" fill="#2a2e39"/>
<rect x="1027.88" y="426.47" width="1.24" height="56.84" fill="#000"/>
<rect x="1025.1" y="426" width="6.8" height="43" fill="#000"/>
<rect x="1026.2" y="427.1" width="4.6" height="40.8" fill="#2a2e39"/>
<rect x="1036.88" y="440.68" width="1.24" height="28.42" fill="#000"/>
<rect x="1034.1" y="453.9" width="6.8" height="1.2" fill="#000"/>
<rect x="1046.88" y="440.68" width="1.24" height="28.42" fill="#000"/>
<rect x="1044.1" y="441" width="6.8" height="14" fill="#000"/>
<rect x="1045.2" y="442.1" width="4.6" height="11.8" fill="#fff"/>
<rect x="1053.1" y="441" width="6.8" height="14" fill="#000"/>
<rect x="1054.2" y="442.1" width="4.6" height="11.8" fill="#fff"/>
<rect x="1065.88" y="412.26" width="1.24" height="42.63" fill="#000"/>
<rect x="1063.1" y="439.9" width="6.8" height="1.2" fill="#000"/>
<rect x="1074.88" y="426.47" width="1.24" height="42.63" fill="#000"/>
<rect x="1072.1" y="425.9" width="6.8" height="1.2" fill="#000"/>
<rect x="1082.1" y="441" width="6.8" height="14" fill="#000"/>
<rect x="1083.2" y="442.1" width="4.6" height="11.8" fill="#fff"/>
<rect x="1093.88" y="440.68" width="1.24" height="28.42" fill="#000"/>
<rect x="1091.1" y="441" width="6.8" height="14" fill="#000"/>
<rect x="1092.2" y="442.1" width="4.6" height="11.8" fill="#2a2e39"/>
<rect x="1103.88" y="454.89" width="1.24" height="28.42" fill="#000"/>
<rect x="1101.1" y="453.9" width="6.8" height="1.2" fill="#000"/>
<rect x="1110.1" y="426" width="6.8" height="29" fill="#000"/>
<rect x="1111.2" y="427.1" width="4.6" height="26.8" fill="#fff"/>
<rect x="1121.88" y="383.84" width="1.24" height="71.05" fill="#000"/>
<rect x="1119.1" y="398" width="6.8" height="43" fill="#000"/>
<rect x="1120.2" y="399.1" width="4.6" height="40.8" fill="#fff"/>
<rect x="1131.88" y="284.37" width="1.24" height="127.89" fill="#000"/>
<rect x="1129.1" y="299" width="6.8" height="85" fill="#000"/>
<rect x="1130.2" y="300.1" width="4.6" height="82.8" fill="#fff"/>
<rect x="1140.88" y="284.37" width="1.24" height="85.26" fill="#000"/>
<rect x="1138.1" y="299" width="6.8" height="56" fill="#000"/>
<rect x="1139.2" y="300.1" width="4.6" height="53.8" fill="#2a2e39"/>
<rect x="1150.88" y="341.21" width="1.24" height="28.42" fill="#000"/>
<rect x="1148.1" y="341" width="6.8" height="14" fill="#000"/>
<rect x="1149.2" y="342.1" width="4.6" height="11.8" fill="#fff"/>
<rect x="1159.88" y="327" width="1.24" height="28.42" fill="#000"/>
<rect x="1157.1" y="354.9" width="6.8" height="1.2" fill="#000"/>
<rect x="1169.88" y="312.79" width="1.24" height="28.42" fill="#000"/>
<rect x="1167.1" y="327" width="6.8" height="14" fill="#000"/>
<rect x="1168.2" y="328.1" width="4.6" height="11.8" fill="#fff"/>
<rect x="1178.88" y="298.58" width="1.24" height="28.42" fill="#000"/>
<rect x="1176.1" y="313" width="6.8" height="14" fill="#000"/>
<rect x="1177.2" y="314.1" width="4.6" height="11.8" fill="#fff"/>
<rect x="1185.1" y="270" width="6.8" height="43" fill="#000"/>
<rect x="1186.2" y="271.1" width="4.6" height="40.8" fill="#fff"/>
<rect x="1197.88" y="241.74" width="1.24" height="71.05" fill="#000"/>
<rect x="1195.1" y="270" width="6.8" height="14" fill="#000"/>
<rect x="1196.2" y="271.1" width="4.6" height="11.8" fill="#fff"/>
<rect x="1206.88" y="270.16" width="1.24" height="28.42" fill="#000"/>
<rect x="1204.1" y="283.9" width="6.8" height="1.2" fill="#000"/>
<rect x="1216.88" y="241.74" width="1.24" height="56.84" fill="#000"/>
<rect x="1214.1" y="270" width="6.8" height="29" fill="#000"/>
<rect x="1215.2" y="271.1" width="4.6" height="26.8" fill="#fff"/>
<rect x="1225.88" y="241.74" width="1.24" height="42.63" fill="#000"/>
<rect x="1223.1" y="256" width="6.8" height="14" fill="#000"/>
<rect x="1224.2" y="257.1" width="4.6" height="11.8" fill="#fff"/>
<rect x="1235.88" y="170.69" width="1.24" height="99.47" fill="#000"/>
<rect x="1233.1" y="171" width="6.8" height="85" fill="#000"/>
<rect x="1234.2" y="172.1" width="4.6" height="82.8" fill="#fff"/>
<rect x="1244.88" y="113.85" width="1.24" height="113.68" fill="#000"/>
<rect x="1242.1" y="169.9" width="6.8" height="1.2" fill="#000"/>
<rect x="1253.88" y="128.06" width="1.24" height="56.84" fill="#000"/>
<rect x="1251.1" y="156" width="6.8" height="15" fill="#000"/>
<rect x="1252.2" y="157.1" width="4.6" height="12.8" fill="#fff"/>
<rect x="1263.88" y="156.48" width="1.24" height="71.05" fill="#000"/>
<rect x="1261.1" y="171" width="6.8" height="28" fill="#000"/>
<rect x="1262.2" y="172.1" width="4.6" height="25.8" fill="#2a2e39"/>
<rect x="1272.88" y="184.9" width="1.24" height="42.63" fill="#000"/>
<rect x="1270.1" y="185" width="6.8" height="28" fill="#000"/>
<rect x="1271.2" y="186.1" width="4.6" height="25.8" fill="#fff"/>
<rect x="1280.1" y="185" width="6.8" height="57" fill="#000"/>
<rect x="1281.2" y="186.1" width="4.6" height="54.8" fill="#fff"/>
<rect x="1291.88" y="199.11" width="1.24" height="28.42" fill="#000"/>
<rect x="1289.1" y="199" width="6.8" height="14" fill="#000"/>
<rect x="1290.2" y="200.1" width="4.6" height="11.8" fill="#2a2e39"/>
<rect x="1301.88" y="184.9" width="1.24" height="42.63" fill="#000"/>
<rect x="1299.1" y="212.9" width="6.8" height="1.2" fill="#000"/>
<rect x="1310.88" y="199.11" width="1.24" height="42.63" fill="#000"/>
<rect x="1308.1" y="212.9" width="6.8" height="1.2" fill="#000"/>
<rect x="1320.88" y="199.11" width="1.24" height="42.63" fill="#000"/>
<rect x="1318.1" y="212.9" width="6.8" height="1.2" fill="#000"/>
<rect x="1329.88" y="184.9" width="1.24" height="42.63" fill="#000"/>
<rect x="1327.1" y="199" width="6.8" height="29" fill="#000"/>
<rect x="1328.2" y="200.1" width="4.6" height="26.8" fill="#fff"/>
</g>
<rect x="107.2" y="546.1" width="30.6" height="30.8" rx="4.5" fill="#fff"/>
<rect x="109.3" y="548.2" width="26.4" height="26.6" rx="3" fill="#fff" stroke="#434651" stroke-width="1.9"/>
<path d="M127.05 556.2 H120.05 V566.9 H127.05 M120.05 561.4 H126.35" fill="none" stroke="#434651" stroke-width="2.2"/>
<rect x="683.3" y="546.1" width="30.6" height="30.8" rx="4.5" fill="#fff"/>
<rect x="685.4" y="548.2" width="26.4" height="26.6" rx="3" fill="#fff" stroke="#434651" stroke-width="1.9"/>
<path d="M703.15 556.2 H696.15 V566.9 H703.15 M696.15 561.4 H702.45" fill="none" stroke="#434651" stroke-width="2.2"/>
<rect x="1259.1" y="546.1" width="30.6" height="30.8" rx="4.5" fill="#fff"/>
<rect x="1261.2" y="548.2" width="26.4" height="26.6" rx="3" fill="#fff" stroke="#434651" stroke-width="1.9"/>
<path d="M1278.95 556.2 H1271.95 V566.9 H1278.95 M1271.95 561.4 H1278.25" fill="none" stroke="#434651" stroke-width="2.2"/>
<circle cx="896.4" cy="561.4" r="17" fill="#fff"/>
<circle cx="896.4" cy="561.4" r="14.6" fill="#fff" stroke="#2962ff" stroke-width="1.9"/>
<path d="M893.0 556.1 V566.8 H895.1999999999999 C902.8 566.8 902.8 556.1 895.1999999999999 556.1 Z" fill="none" stroke="#2962ff" stroke-width="2.6" stroke-linejoin="miter"/>
<circle cx="1330.4" cy="561.4" r="17" fill="#fff"/>
<circle cx="1330.4" cy="561.4" r="14.6" fill="#fff" stroke="#9c27b0" stroke-width="1.9"/>
<path d="M1335.5 553.8 L1324.2 562.45 L1330.1 562.45 L1325.6 569.3 L1336.95 560.45 L1331 560.45 Z" fill="#9c27b0" stroke="#9c27b0" stroke-width="0.5" stroke-linejoin="round"/>
<g clip-path="url(#cmacd)">
<line x1="14.9" y1="644.5" x2="1384.2" y2="644.5" stroke="#a3a6af" stroke-width="1" stroke-dasharray="5.1 5.94"/>
<rect x="14.62" y="633.17" width="7.88" height="11.33" fill="#b2dfdb"/>
<rect x="23.62" y="634.01" width="9" height="10.49" fill="#b2dfdb"/>
<rect x="33.75" y="634.28" width="7.88" height="10.22" fill="#b2dfdb"/>
<rect x="42.75" y="636.47" width="7.88" height="8.03" fill="#b2dfdb"/>
<rect x="51.75" y="639.02" width="9" height="5.48" fill="#b2dfdb"/>
<rect x="61.88" y="640.91" width="7.88" height="3.59" fill="#b2dfdb"/>
<rect x="70.88" y="640.03" width="7.88" height="4.47" fill="#26a69a"/>
<rect x="79.88" y="635.97" width="9" height="8.53" fill="#26a69a"/>
<rect x="90" y="633.16" width="7.88" height="11.34" fill="#26a69a"/>
<rect x="99" y="634.33" width="9" height="10.17" fill="#b2dfdb"/>
<rect x="109.12" y="633.43" width="7.88" height="11.07" fill="#26a69a"/>
<rect x="118.12" y="634.32" width="7.88" height="10.18" fill="#b2dfdb"/>
<rect x="127.12" y="640.83" width="9" height="3.67" fill="#b2dfdb"/>
<rect x="137.25" y="644.5" width="7.88" height="1" fill="#ff5252"/>
<rect x="146.25" y="644.5" width="9" height="3.97" fill="#ff5252"/>
<rect x="156.38" y="644.5" width="7.88" height="8.65" fill="#ff5252"/>
<rect x="165.38" y="644.5" width="7.88" height="9.75" fill="#ff5252"/>
<rect x="174.38" y="644.5" width="9" height="10.77" fill="#ff5252"/>
<rect x="184.5" y="644.5" width="7.88" height="10.93" fill="#ff5252"/>
<rect x="193.5" y="644.5" width="7.88" height="10.51" fill="#ffcdd2"/>
<rect x="202.5" y="644.5" width="9" height="11.23" fill="#ff5252"/>
<rect x="212.62" y="644.5" width="7.88" height="10.34" fill="#ffcdd2"/>
<rect x="221.62" y="644.5" width="9" height="9.21" fill="#ffcdd2"/>
<rect x="231.75" y="644.5" width="7.88" height="8.74" fill="#ffcdd2"/>
<rect x="240.75" y="644.5" width="7.88" height="7.16" fill="#ffcdd2"/>
<rect x="249.75" y="644.5" width="9" height="5.72" fill="#ffcdd2"/>
<rect x="259.88" y="644.5" width="7.88" height="5.18" fill="#ffcdd2"/>
<rect x="268.88" y="644.5" width="9" height="2.96" fill="#ffcdd2"/>
<rect x="279" y="644.5" width="7.88" height="2.05" fill="#ffcdd2"/>
<rect x="288" y="644.25" width="7.88" height="1" fill="#26a69a"/>
<rect x="297" y="641.95" width="9" height="2.55" fill="#26a69a"/>
<rect x="307.12" y="639.78" width="7.88" height="4.72" fill="#26a69a"/>
<rect x="316.12" y="637.06" width="7.88" height="7.44" fill="#26a69a"/>
<rect x="325.12" y="637.93" width="9" height="6.57" fill="#b2dfdb"/>
<rect x="335.25" y="638.75" width="7.88" height="5.75" fill="#b2dfdb"/>
<rect x="344.25" y="638.76" width="9" height="5.74" fill="#b2dfdb"/>
<rect x="354.38" y="638.27" width="7.88" height="6.23" fill="#26a69a"/>
<rect x="363.38" y="638.26" width="7.88" height="6.24" fill="#26a69a"/>
<rect x="372.38" y="638.57" width="9" height="5.93" fill="#b2dfdb"/>
<rect x="382.5" y="638.32" width="7.88" height="6.18" fill="#26a69a"/>
<rect x="391.5" y="638.51" width="9" height="5.99" fill="#b2dfdb"/>
<rect x="401.62" y="640.48" width="7.88" height="4.02" fill="#b2dfdb"/>
<rect x="410.62" y="641.96" width="7.88" height="2.54" fill="#b2dfdb"/>
<rect x="419.62" y="643.07" width="9" height="1.43" fill="#b2dfdb"/>
<rect x="429.75" y="644.5" width="7.88" height="1" fill="#ff5252"/>
<rect x="438.75" y="644.5" width="9" height="1.92" fill="#ff5252"/>
<rect x="448.88" y="644.5" width="7.88" height="2.97" fill="#ff5252"/>
<rect x="457.88" y="644.5" width="7.88" height="5.78" fill="#ff5252"/>
<rect x="466.88" y="644.5" width="9" height="6.5" fill="#ff5252"/>
<rect x="477" y="644.5" width="7.88" height="6.63" fill="#ff5252"/>
<rect x="486" y="644.5" width="7.88" height="5.59" fill="#ffcdd2"/>
<rect x="495" y="644.5" width="9" height="5.39" fill="#ffcdd2"/>
<rect x="505.12" y="644.5" width="7.88" height="4.94" fill="#ffcdd2"/>
<rect x="514.12" y="644.5" width="9" height="5.12" fill="#ff5252"/>
<rect x="524.25" y="644.5" width="7.88" height="4.9" fill="#ffcdd2"/>
<rect x="533.25" y="644.5" width="7.88" height="4.44" fill="#ffcdd2"/>
<rect x="542.25" y="644.5" width="9" height="5.36" fill="#ff5252"/>
<rect x="552.38" y="644.5" width="7.88" height="4.05" fill="#ffcdd2"/>
<rect x="561.38" y="644.5" width="9" height="2.92" fill="#ffcdd2"/>
<rect x="571.5" y="644.5" width="7.88" height="2.71" fill="#ffcdd2"/>
<rect x="580.5" y="644.5" width="7.88" height="1.57" fill="#ffcdd2"/>
<rect x="589.5" y="643.65" width="9" height="1" fill="#26a69a"/>
<rect x="599.62" y="642.07" width="7.88" height="2.43" fill="#26a69a"/>
<rect x="608.62" y="641.85" width="7.88" height="2.65" fill="#26a69a"/>
<rect x="617.62" y="641.75" width="9" height="2.75" fill="#26a69a"/>
<rect x="627.75" y="641.74" width="7.88" height="2.76" fill="#26a69a"/>
<rect x="636.75" y="642.54" width="9" height="1.96" fill="#b2dfdb"/>
<rect x="646.88" y="643.06" width="7.88" height="1.44" fill="#b2dfdb"/>
<rect x="655.88" y="643.39" width="7.88" height="1.11" fill="#b2dfdb"/>
<rect x="664.88" y="642.82" width="9" height="1.68" fill="#26a69a"/>
<rect x="675" y="644.5" width="7.88" height="1" fill="#ff5252"/>
<rect x="684" y="644.5" width="9" height="1.35" fill="#ff5252"/>
<rect x="694.12" y="644.5" width="7.88" height="4.17" fill="#ff5252"/>
<rect x="703.12" y="644.5" width="7.88" height="5.62" fill="#ff5252"/>
<rect x="712.12" y="644.5" width="9" height="6.14" fill="#ff5252"/>
<rect x="722.25" y="644.5" width="7.88" height="6.79" fill="#ff5252"/>
<rect x="731.25" y="644.5" width="9" height="5.95" fill="#ffcdd2"/>
<rect x="741.38" y="644.5" width="7.88" height="5.73" fill="#ffcdd2"/>
<rect x="750.38" y="644.5" width="7.88" height="5.88" fill="#ff5252"/>
<rect x="759.38" y="644.5" width="9" height="7.01" fill="#ff5252"/>
<rect x="769.5" y="644.5" width="7.88" height="5.66" fill="#ffcdd2"/>
<rect x="778.5" y="644.5" width="7.88" height="2.81" fill="#ffcdd2"/>
<rect x="787.5" y="644.5" width="9" height="1.42" fill="#ffcdd2"/>
<rect x="797.62" y="644.5" width="7.88" height="1" fill="#ffcdd2"/>
<rect x="806.62" y="643.83" width="9" height="1" fill="#26a69a"/>
<rect x="816.75" y="643.82" width="7.88" height="1" fill="#26a69a"/>
<rect x="825.75" y="644.5" width="7.88" height="1" fill="#ff5252"/>
<rect x="834.75" y="644.5" width="9" height="1.25" fill="#ff5252"/>
<rect x="844.88" y="644.33" width="7.88" height="1" fill="#26a69a"/>
<rect x="853.88" y="638.72" width="9" height="5.78" fill="#26a69a"/>
<rect x="864" y="635.31" width="7.88" height="9.19" fill="#26a69a"/>
<rect x="873" y="636.5" width="7.88" height="8" fill="#b2dfdb"/>
<rect x="882" y="635.99" width="9" height="8.51" fill="#26a69a"/>
<rect x="892.12" y="637.07" width="7.88" height="7.43" fill="#b2dfdb"/>
<rect x="901.12" y="638.01" width="7.88" height="6.49" fill="#b2dfdb"/>
<rect x="910.12" y="638.84" width="9" height="5.66" fill="#b2dfdb"/>
<rect x="920.25" y="638.79" width="7.88" height="5.71" fill="#26a69a"/>
<rect x="929.25" y="638.21" width="9" height="6.29" fill="#26a69a"/>
<rect x="939.38" y="636.57" width="7.88" height="7.93" fill="#26a69a"/>
<rect x="948.38" y="636.68" width="7.88" height="7.82" fill="#b2dfdb"/>
<rect x="957.38" y="637.13" width="9" height="7.37" fill="#b2dfdb"/>
<rect x="967.5" y="637.79" width="7.88" height="6.71" fill="#b2dfdb"/>
<rect x="976.5" y="637.78" width="9" height="6.72" fill="#26a69a"/>
<rect x="986.62" y="639.69" width="7.88" height="4.81" fill="#b2dfdb"/>
<rect x="995.62" y="643.47" width="7.88" height="1.03" fill="#b2dfdb"/>
<rect x="1004.62" y="644.5" width="9" height="1" fill="#ff5252"/>
<rect x="1014.75" y="644.5" width="7.88" height="3.24" fill="#ff5252"/>
<rect x="1023.75" y="644.5" width="7.88" height="4.72" fill="#ff5252"/>
<rect x="1032.75" y="644.5" width="9" height="4.64" fill="#ffcdd2"/>
<rect x="1042.88" y="644.5" width="7.88" height="3.58" fill="#ffcdd2"/>
<rect x="1051.88" y="644.5" width="9" height="2.72" fill="#ffcdd2"/>
<rect x="1062" y="644.5" width="7.88" height="2.02" fill="#ffcdd2"/>
<rect x="1071" y="644.5" width="7.88" height="1" fill="#ffcdd2"/>
<rect x="1080" y="644.5" width="9" height="1" fill="#ffcdd2"/>
<rect x="1090.12" y="644.5" width="7.88" height="1.21" fill="#ff5252"/>
<rect x="1099.12" y="644.5" width="9" height="1.53" fill="#ff5252"/>
<rect x="1109.25" y="644.5" width="7.88" height="1" fill="#ffcdd2"/>
<rect x="1118.25" y="642.1" width="7.88" height="2.4" fill="#26a69a"/>
<rect x="1127.25" y="635.27" width="9" height="9.23" fill="#26a69a"/>
<rect x="1137.38" y="634.55" width="7.88" height="9.95" fill="#26a69a"/>
<rect x="1146.38" y="633.87" width="9" height="10.63" fill="#26a69a"/>
<rect x="1156.5" y="634.81" width="7.88" height="9.69" fill="#b2dfdb"/>
<rect x="1165.5" y="634.45" width="7.88" height="10.05" fill="#26a69a"/>
<rect x="1174.5" y="634.06" width="9" height="10.44" fill="#26a69a"/>
<rect x="1184.62" y="632.18" width="7.88" height="12.32" fill="#26a69a"/>
<rect x="1193.62" y="631.78" width="7.88" height="12.72" fill="#26a69a"/>
<rect x="1202.62" y="633.15" width="9" height="11.35" fill="#b2dfdb"/>
<rect x="1212.75" y="634.02" width="7.88" height="10.48" fill="#b2dfdb"/>
<rect x="1221.75" y="634.57" width="9" height="9.93" fill="#b2dfdb"/>
<rect x="1231.88" y="631.07" width="7.88" height="13.43" fill="#26a69a"/>
<rect x="1240.88" y="629.85" width="7.88" height="14.65" fill="#26a69a"/>
<rect x="1249.88" y="629.4" width="9" height="15.1" fill="#26a69a"/>
<rect x="1260" y="632.55" width="7.88" height="11.95" fill="#b2dfdb"/>
<rect x="1269" y="634.76" width="9" height="9.74" fill="#b2dfdb"/>
<rect x="1279.12" y="637.04" width="7.88" height="7.46" fill="#b2dfdb"/>
<rect x="1288.12" y="640.81" width="7.88" height="3.69" fill="#b2dfdb"/>
<rect x="1297.12" y="643.78" width="9" height="1" fill="#b2dfdb"/>
<rect x="1307.25" y="644.5" width="7.88" height="1.6" fill="#ff5252"/>
<rect x="1316.25" y="644.5" width="7.88" height="3.39" fill="#ff5252"/>
<rect x="1325.25" y="644.5" width="9" height="3.97" fill="#ff5252"/>
<path d="M9.56 642.32 L19 640.88 L28.44 639.1 L37.87 636.81 L47.3 637 L56.74 638.17 L66.18 639.17 L75.61 637.17 L85.05 630.98 L94.48 625.34 L103.92 623.97 L113.35 620.3 L122.79 618.64 L132.22 624.24 L141.66 627.91 L151.09 632.87 L160.53 639.71 L169.96 643.24 L179.4 646.97 L188.83 649.86 L198.27 652.06 L207.7 655.58 L217.14 657.28 L226.57 658.46 L236.01 660.17 L245.44 660.38 L254.88 660.37 L264.31 661.13 L273.75 659.64 L283.18 659.25 L292.62 656.89 L302.05 653.95 L311.49 650.6 L320.92 646.02 L330.36 645.24 L339.79 644.63 L349.23 643.2 L358.66 641.15 L368.1 639.58 L377.53 638.41 L386.97 636.62 L396.4 635.31 L405.84 636.27 L415.27 637.12 L424.71 637.87 L434.14 639.47 L443.58 641.73 L453.01 643.53 L462.45 647.78 L471.88 650.13 L481.31 651.91 L490.75 652.27 L500.19 653.41 L509.62 654.21 L519.06 655.66 L528.49 656.67 L537.93 657.32 L547.36 659.58 L556.8 659.28 L566.23 658.89 L575.67 659.35 L585.1 658.61 L594.54 655.97 L603.97 653.78 L613.41 652.9 L622.84 652.11 L632.27 651.41 L641.71 651.73 L651.14 651.89 L660.58 651.93 L670.01 650.94 L679.45 652.92 L688.88 654.37 L698.32 658.23 L707.75 661.09 L717.19 663.15 L726.62 665.49 L736.06 666.14 L745.5 667.35 L754.93 668.98 L764.37 671.86 L773.8 671.92 L783.24 669.77 L792.67 668.74 L802.11 667.66 L811.54 666.55 L820.98 666.37 L830.41 667.86 L839.85 668.77 L849.28 667.32 L858.72 660.26 L868.15 654.55 L877.59 653.73 L887.02 651.1 L896.46 650.32 L905.89 649.64 L915.33 649.05 L924.76 647.57 L934.2 645.42 L943.63 641.8 L953.07 639.96 L962.5 638.56 L971.94 637.54 L981.37 635.86 L990.81 636.56 L1000.24 640.08 L1009.68 641.93 L1019.11 645.33 L1028.55 647.99 L1037.98 649.07 L1047.41 648.9 L1056.85 648.72 L1066.29 648.53 L1075.72 647.37 L1085.15 647.39 L1094.59 648.34 L1104.03 649.04 L1113.46 647.61 L1122.89 644.53 L1132.33 635.39 L1141.77 632.18 L1151.2 628.84 L1160.63 627.37 L1170.07 624.49 L1179.51 621.49 L1188.94 616.53 L1198.38 612.96 L1207.81 611.48 L1217.25 609.74 L1226.68 607.81 L1236.12 600.94 L1245.55 596.07 L1254.99 591.83 L1264.42 592 L1273.86 591.77 L1283.29 592.19 L1292.73 595.04 L1302.16 597.83 L1311.6 600.55 L1321.03 603.19 L1330.47 604.76" fill="none" stroke="#2962ff" stroke-width="1.7" stroke-linejoin="round"/>
<path d="M9.56 654.31 L19 652.21 L28.44 649.59 L37.87 647.03 L47.3 645.03 L56.74 643.66 L66.18 642.76 L75.61 641.64 L85.05 639.51 L94.48 636.68 L103.92 634.13 L113.35 631.37 L122.79 628.82 L132.22 627.9 L141.66 627.91 L151.09 628.9 L160.53 631.06 L169.96 633.5 L179.4 636.19 L188.83 638.92 L198.27 641.55 L207.7 644.36 L217.14 646.94 L226.57 649.25 L236.01 651.43 L245.44 653.22 L254.88 654.65 L264.31 655.95 L273.75 656.69 L283.18 657.2 L292.62 657.14 L302.05 656.5 L311.49 655.32 L320.92 653.46 L330.36 651.82 L339.79 650.38 L349.23 648.94 L358.66 647.38 L368.1 645.82 L377.53 644.34 L386.97 642.8 L396.4 641.3 L405.84 640.29 L415.27 639.66 L424.71 639.3 L434.14 639.33 L443.58 639.81 L453.01 640.56 L462.45 642 L471.88 643.63 L481.31 645.28 L490.75 646.68 L500.19 648.03 L509.62 649.26 L519.06 650.54 L528.49 651.77 L537.93 652.88 L547.36 654.22 L556.8 655.23 L566.23 655.96 L575.67 656.64 L585.1 657.03 L594.54 656.82 L603.97 656.21 L613.41 655.55 L622.84 654.86 L632.27 654.17 L641.71 653.68 L651.14 653.33 L660.58 653.05 L670.01 652.63 L679.45 652.68 L688.88 653.02 L698.32 654.06 L707.75 655.47 L717.19 657.01 L726.62 658.7 L736.06 660.19 L745.5 661.62 L754.93 663.09 L764.37 664.85 L773.8 666.26 L783.24 666.96 L792.67 667.32 L802.11 667.39 L811.54 667.22 L820.98 667.05 L830.41 667.21 L839.85 667.52 L849.28 667.48 L858.72 666.04 L868.15 663.74 L877.59 661.74 L887.02 659.61 L896.46 657.75 L905.89 656.13 L915.33 654.71 L924.76 653.29 L934.2 651.71 L943.63 649.73 L953.07 647.78 L962.5 645.93 L971.94 644.25 L981.37 642.57 L990.81 641.37 L1000.24 641.11 L1009.68 641.28 L1019.11 642.09 L1028.55 643.27 L1037.98 644.43 L1047.41 645.32 L1056.85 646 L1066.29 646.51 L1075.72 646.68 L1085.15 646.82 L1094.59 647.13 L1104.03 647.51 L1113.46 647.53 L1122.89 646.93 L1132.33 644.62 L1141.77 642.13 L1151.2 639.48 L1160.63 637.06 L1170.07 634.54 L1179.51 631.93 L1188.94 628.85 L1198.38 625.67 L1207.81 622.83 L1217.25 620.21 L1226.68 617.73 L1236.12 614.38 L1245.55 610.71 L1254.99 606.94 L1264.42 603.95 L1273.86 601.51 L1283.29 599.65 L1292.73 598.73 L1302.16 598.55 L1311.6 598.95 L1321.03 599.8 L1330.47 600.79" fill="none" stroke="#f23645" stroke-width="1.7" stroke-linejoin="round"/>
</g>
<line x1="16" y1="697.46" x2="1388.7" y2="697.46" stroke="#f0487a" stroke-width="1.2"/>
<line x1="16" y1="744.4" x2="1388.7" y2="744.4" stroke="#f0487a" stroke-width="1.2"/>
<line x1="14.9" y1="721.5" x2="1384.2" y2="721.5" stroke="#a3a6af" stroke-width="1" stroke-dasharray="5.1 5.94"/>
<clipPath id="cob"><rect x="16" y="681" width="1372.7" height="16.46"/></clipPath>
<path clip-path="url(#cob)" d="M19 717.09 L28.44 714.66 L37.87 712.27 L47.3 718.29 L56.74 721.11 L66.18 721.11 L75.61 713 L85.05 702.94 L94.48 701.27 L103.92 710.42 L113.35 705.04 L122.79 707.92 L132.22 724.07 L141.66 722 L151.09 725.87 L160.53 731.14 L169.96 726.61 L179.4 728.42 L188.83 728.42 L198.27 728.42 L207.7 732.45 L217.14 729.6 L226.57 729.6 L236.01 731.85 L245.44 728.63 L254.88 728.63 L264.31 731.23 L273.75 724.41 L283.18 727.2 L292.62 720.83 L302.05 717.89 L311.49 715.03 L320.92 709.78 L330.36 719.45 L339.79 719.45 L349.23 716.54 L358.66 713.73 L368.1 713.73 L377.53 713.73 L386.97 710.6 L396.4 710.6 L405.84 719.13 L415.27 719.13 L424.71 719.13 L434.14 723.47 L443.58 727.49 L453.01 727.49 L462.45 737.89 L471.88 732.83 L481.31 732.83 L490.75 727.76 L500.19 731.48 L509.62 731.48 L519.06 735.19 L528.49 735.19 L537.93 735.19 L547.36 742.35 L556.8 730.5 L566.23 730.5 L575.67 734.38 L585.1 728.72 L594.54 719.12 L603.97 719.12 L613.41 723.79 L622.84 723.79 L632.27 723.79 L641.71 728.71 L651.14 728.71 L660.58 728.71 L670.01 722.12 L679.45 736.06 L688.88 736.06 L698.32 745.62 L707.75 745.62 L717.19 745.62 L726.62 748.47 L736.06 741.34 L745.5 744.47 L754.93 747.31 L764.37 752.11 L773.8 739.72 L783.24 729.71 L792.67 732.95 L802.11 732.95 L811.54 732.95 L820.98 736.46 L830.41 742.47 L839.85 742.47 L849.28 731.31 L858.72 709.9 L868.15 709.9 L877.59 723.38 L887.02 717.61 L896.46 721.82 L905.89 721.82 L915.33 721.82 L924.76 718.44 L934.2 715.2 L943.63 709.35 L953.07 713.29 L962.5 713.29 L971.94 713.29 L981.37 709.95 L990.81 718.56 L1000.24 728.73 L1009.68 724.98 L1019.11 730.9 L1028.55 730.9 L1037.98 726.84 L1047.41 722.98 L1056.85 722.98 L1066.29 722.98 L1075.72 718.75 L1085.15 722.99 L1094.59 726.94 L1104.03 726.94 L1113.46 717.93 L1122.89 710.67 L1132.33 694.71 L1141.77 709.02 L1151.2 706.99 L1160.63 710.24 L1170.07 706.03 L1179.51 704.05 L1188.94 698.73 L1198.38 698.73 L1207.81 702.52 L1217.25 700.59 L1226.68 698.7 L1236.12 689.9 L1245.55 689.9 L1254.99 688.67 L1264.42 700.12 L1273.86 698.48 L1283.29 698.48 L1292.73 705.87 L1302.16 705.87 L1311.6 705.87 L1321.03 705.87 L1330.47 703.35 L1330.47 697.46 L19 697.46 Z" fill="#4caf50" opacity="0.09"/>
<g clip-path="url(#crsi)">
<path d="M9.56 706.4 L19 717.09 L28.44 714.66 L37.87 712.27 L47.3 718.29 L56.74 721.11 L66.18 721.11 L75.61 713 L85.05 702.94 L94.48 701.27 L103.92 710.42 L113.35 705.04 L122.79 707.92 L132.22 724.07 L141.66 722 L151.09 725.87 L160.53 731.14 L169.96 726.61 L179.4 728.42 L188.83 728.42 L198.27 728.42 L207.7 732.45 L217.14 729.6 L226.57 729.6 L236.01 731.85 L245.44 728.63 L254.88 728.63 L264.31 731.23 L273.75 724.41 L283.18 727.2 L292.62 720.83 L302.05 717.89 L311.49 715.03 L320.92 709.78 L330.36 719.45 L339.79 719.45 L349.23 716.54 L358.66 713.73 L368.1 713.73 L377.53 713.73 L386.97 710.6 L396.4 710.6 L405.84 719.13 L415.27 719.13 L424.71 719.13 L434.14 723.47 L443.58 727.49 L453.01 727.49 L462.45 737.89 L471.88 732.83 L481.31 732.83 L490.75 727.76 L500.19 731.48 L509.62 731.48 L519.06 735.19 L528.49 735.19 L537.93 735.19 L547.36 742.35 L556.8 730.5 L566.23 730.5 L575.67 734.38 L585.1 728.72 L594.54 719.12 L603.97 719.12 L613.41 723.79 L622.84 723.79 L632.27 723.79 L641.71 728.71 L651.14 728.71 L660.58 728.71 L670.01 722.12 L679.45 736.06 L688.88 736.06 L698.32 745.62 L707.75 745.62 L717.19 745.62 L726.62 748.47 L736.06 741.34 L745.5 744.47 L754.93 747.31 L764.37 752.11 L773.8 739.72 L783.24 729.71 L792.67 732.95 L802.11 732.95 L811.54 732.95 L820.98 736.46 L830.41 742.47 L839.85 742.47 L849.28 731.31 L858.72 709.9 L868.15 709.9 L877.59 723.38 L887.02 717.61 L896.46 721.82 L905.89 721.82 L915.33 721.82 L924.76 718.44 L934.2 715.2 L943.63 709.35 L953.07 713.29 L962.5 713.29 L971.94 713.29 L981.37 709.95 L990.81 718.56 L1000.24 728.73 L1009.68 724.98 L1019.11 730.9 L1028.55 730.9 L1037.98 726.84 L1047.41 722.98 L1056.85 722.98 L1066.29 722.98 L1075.72 718.75 L1085.15 722.99 L1094.59 726.94 L1104.03 726.94 L1113.46 717.93 L1122.89 710.67 L1132.33 694.71 L1141.77 709.02 L1151.2 706.99 L1160.63 710.24 L1170.07 706.03 L1179.51 704.05 L1188.94 698.73 L1198.38 698.73 L1207.81 702.52 L1217.25 700.59 L1226.68 698.7 L1236.12 689.9 L1245.55 689.9 L1254.99 688.67 L1264.42 700.12 L1273.86 698.48 L1283.29 698.48 L1292.73 705.87 L1302.16 705.87 L1311.6 705.87 L1321.03 705.87 L1330.47 703.35" fill="none" stroke="#f0487a" stroke-width="1.6" stroke-linejoin="round"/>
</g>
<rect x="16" y="581" width="1459.5" height="1.1" fill="#e3e5ec"/>
<rect x="16" y="680" width="1459.5" height="1.1" fill="#e3e5ec"/>
<rect x="14.1" y="40.2" width="1462.9" height="2.4" fill="#eceef3"/>
<rect x="14.1" y="800.2" width="1462.9" height="1.8" fill="#eceef3"/>
<rect x="14.1" y="40.2" width="1.9" height="761.8" fill="#eceef3"/>
<rect x="1475.4" y="40.2" width="1.6" height="761.8" fill="#eceef3"/>
<g clip-path="url(#cax)">
<text x="1401.1" y="49.1" font-family="Liberation Sans, sans-serif" font-size="16.8" fill="#131722" text-anchor="start" font-weight="normal" textLength="44.2" lengthAdjust="spacingAndGlyphs" xml:space="preserve">0.520</text>
<text x="1401.1" y="105.94" font-family="Liberation Sans, sans-serif" font-size="16.8" fill="#131722" text-anchor="start" font-weight="normal" textLength="44.2" lengthAdjust="spacingAndGlyphs" xml:space="preserve">0.500</text>
<text x="1401.1" y="162.78" font-family="Liberation Sans, sans-serif" font-size="16.8" fill="#131722" text-anchor="start" font-weight="normal" textLength="44.2" lengthAdjust="spacingAndGlyphs" xml:space="preserve">0.480</text>
<text x="1401.1" y="219.62" font-family="Liberation Sans, sans-serif" font-size="16.8" fill="#131722" text-anchor="start" font-weight="normal" textLength="44.2" lengthAdjust="spacingAndGlyphs" xml:space="preserve">0.460</text>
<text x="1401.1" y="276.46" font-family="Liberation Sans, sans-serif" font-size="16.8" fill="#131722" text-anchor="start" font-weight="normal" textLength="44.2" lengthAdjust="spacingAndGlyphs" xml:space="preserve">0.440</text>
<text x="1401.1" y="333.3" font-family="Liberation Sans, sans-serif" font-size="16.8" fill="#131722" text-anchor="start" font-weight="normal" textLength="44.2" lengthAdjust="spacingAndGlyphs" xml:space="preserve">0.420</text>
<text x="1401.1" y="390.14" font-family="Liberation Sans, sans-serif" font-size="16.8" fill="#131722" text-anchor="start" font-weight="normal" textLength="44.2" lengthAdjust="spacingAndGlyphs" xml:space="preserve">0.400</text>
<text x="1401.1" y="446.98" font-family="Liberation Sans, sans-serif" font-size="16.8" fill="#131722" text-anchor="start" font-weight="normal" textLength="44.2" lengthAdjust="spacingAndGlyphs" xml:space="preserve">0.380</text>
<text x="1401.1" y="503.82" font-family="Liberation Sans, sans-serif" font-size="16.8" fill="#131722" text-anchor="start" font-weight="normal" textLength="44.2" lengthAdjust="spacingAndGlyphs" xml:space="preserve">0.360</text>
</g>
<text x="1401.1" y="602.2" font-family="Liberation Sans, sans-serif" font-size="16.8" fill="#131722" text-anchor="start" font-weight="normal" textLength="44.2" lengthAdjust="spacingAndGlyphs" xml:space="preserve">0.020</text>
<text x="1401.1" y="649.4" font-family="Liberation Sans, sans-serif" font-size="16.8" fill="#131722" text-anchor="start" font-weight="normal" textLength="44.2" lengthAdjust="spacingAndGlyphs" xml:space="preserve">0.000</text>
<text x="1401.1" y="693.82" font-family="Liberation Sans, sans-serif" font-size="16.8" fill="#131722" text-anchor="start" font-weight="normal" textLength="44.2" lengthAdjust="spacingAndGlyphs" xml:space="preserve">80.00</text>
<text x="1401.1" y="739.16" font-family="Liberation Sans, sans-serif" font-size="16.8" fill="#131722" text-anchor="start" font-weight="normal" textLength="44.2" lengthAdjust="spacingAndGlyphs" xml:space="preserve">40.00</text>
<path d="M1389 61 H1451.5 Q1454 61 1454 63.5 V85.3 Q1454 87.8 1451.5 87.8 H1389 Z" fill="#2962ff"/>
<text x="1401.1" y="80.8" font-family="Liberation Sans, sans-serif" font-size="16.8" fill="#fff" text-anchor="start" font-weight="bold" textLength="44.2" lengthAdjust="spacingAndGlyphs" xml:space="preserve">0.510</text>
<path d="M1389 100 H1451.5 Q1454 100 1454 102.5 V124.3 Q1454 126.8 1451.5 126.8 H1389 Z" fill="#2962ff"/>
<text x="1401.1" y="119.8" font-family="Liberation Sans, sans-serif" font-size="16.8" fill="#fff" text-anchor="start" font-weight="bold" textLength="44.2" lengthAdjust="spacingAndGlyphs" xml:space="preserve">0.495</text>
<path d="M1389 170 H1451.5 Q1454 170 1454 172.5 V194.3 Q1454 196.8 1451.5 196.8 H1389 Z" fill="#2962ff"/>
<text x="1401.1" y="189.8" font-family="Liberation Sans, sans-serif" font-size="16.8" fill="#fff" text-anchor="start" font-weight="bold" textLength="44.2" lengthAdjust="spacingAndGlyphs" xml:space="preserve">0.470</text>
<path d="M1389 228.1 H1451.5 Q1454 228.1 1454 230.6 V252.4 Q1454 254.9 1451.5 254.9 H1389 Z" fill="#2962ff"/>
<text x="1401.1" y="247.9" font-family="Liberation Sans, sans-serif" font-size="16.8" fill="#fff" text-anchor="start" font-weight="bold" textLength="44.2" lengthAdjust="spacingAndGlyphs" xml:space="preserve">0.450</text>
<path d="M1389 540.2 H1466.5 Q1469 540.2 1469 542.7 V564.5 Q1469 567 1466.5 567 H1389 Z" fill="#26a69a"/>
<text x="1401.1" y="559.5" font-family="Liberation Sans, sans-serif" font-size="16.8" fill="#fff" text-anchor="start" font-weight="bold" textLength="44.5" lengthAdjust="spacingAndGlyphs" xml:space="preserve">2.332</text>
<text x="1447.8" y="559.5" font-family="Liberation Sans, sans-serif" font-size="16.8" fill="#fff" text-anchor="start" font-weight="bold" textLength="13.2" lengthAdjust="spacingAndGlyphs" xml:space="preserve">M</text>
<text x="27.2" y="69.6" font-family="Liberation Sans, sans-serif" font-size="16.8" fill="#131722" text-anchor="start" font-weight="normal" textLength="31.2" lengthAdjust="spacingAndGlyphs" xml:space="preserve">L&amp;P</text>
<text x="64.8" y="69.6" font-family="Liberation Sans, sans-serif" font-size="16.8" fill="#131722" text-anchor="start" font-weight="normal" textLength="60.5" lengthAdjust="spacingAndGlyphs" xml:space="preserve">GLOBAL</text>
<text x="133.5" y="69.6" font-family="Liberation Sans, sans-serif" font-size="16.8" fill="#131722" text-anchor="start" font-weight="normal" textLength="68.1" lengthAdjust="spacingAndGlyphs" xml:space="preserve">BERHAD,</text>
<text x="209.8" y="69.6" font-family="Liberation Sans, sans-serif" font-size="16.8" fill="#131722" text-anchor="start" font-weight="normal" textLength="19.3" lengthAdjust="spacingAndGlyphs" xml:space="preserve">1D,</text>
<text x="240.8" y="69.6" font-family="Liberation Sans, sans-serif" font-size="16.8" fill="#131722" text-anchor="start" font-weight="normal" textLength="32.4" lengthAdjust="spacingAndGlyphs" xml:space="preserve">MYX</text>
<text x="285.9" y="69.6" font-family="Liberation Sans, sans-serif" font-size="16.8" fill="#131722" text-anchor="start" font-weight="normal" textLength="54.8" lengthAdjust="spacingAndGlyphs" xml:space="preserve">O0.455</text>
<text x="353.6" y="69.6" font-family="Liberation Sans, sans-serif" font-size="16.8" fill="#131722" text-anchor="start" font-weight="normal" textLength="54.3" lengthAdjust="spacingAndGlyphs" xml:space="preserve">H0.470</text>
<text x="420.6" y="69.6" font-family="Liberation Sans, sans-serif" font-size="16.8" fill="#131722" text-anchor="start" font-weight="normal" textLength="51.3" lengthAdjust="spacingAndGlyphs" xml:space="preserve">L0.455</text>
<text x="484.9" y="69.6" font-family="Liberation Sans, sans-serif" font-size="16.8" fill="#131722" text-anchor="start" font-weight="normal" textLength="53.3" lengthAdjust="spacingAndGlyphs" xml:space="preserve">C0.465</text>
<text x="550.4" y="69.6" font-family="Liberation Sans, sans-serif" font-size="16.8" fill="#131722" text-anchor="start" font-weight="normal" textLength="126.3" lengthAdjust="spacingAndGlyphs" xml:space="preserve">+0.005 (+1.09%)</text>
<text x="27.2" y="95.5" font-family="Liberation Sans, sans-serif" font-size="16.8" fill="#131722" text-anchor="start" font-weight="normal" textLength="201" lengthAdjust="spacingAndGlyphs" xml:space="preserve">EMA (9, close, 0, EMA, 9)</text>
<text x="240.4" y="95.5" font-family="Liberation Sans, sans-serif" font-size="16.8" fill="#2962ff" text-anchor="start" font-weight="normal" textLength="41.7" lengthAdjust="spacingAndGlyphs" xml:space="preserve">0.461</text>
<text x="27.2" y="121.8" font-family="Liberation Sans, sans-serif" font-size="16.8" fill="#131722" text-anchor="start" font-weight="normal" textLength="219.7" lengthAdjust="spacingAndGlyphs" xml:space="preserve">EMA (20, close, 0, EMA, 20)</text>
<text x="259.1" y="121.8" font-family="Liberation Sans, sans-serif" font-size="16.8" fill="#f23645" text-anchor="start" font-weight="normal" textLength="43.5" lengthAdjust="spacingAndGlyphs" xml:space="preserve">0.449</text>
<text x="27.2" y="147.6" font-family="Liberation Sans, sans-serif" font-size="16.8" fill="#131722" text-anchor="start" font-weight="normal" textLength="229.1" lengthAdjust="spacingAndGlyphs" xml:space="preserve">EMA (120, close, 0, EMA, 12)</text>
<text x="268.5" y="147.6" font-family="Liberation Sans, sans-serif" font-size="16.8" fill="#22ab94" text-anchor="start" font-weight="normal" textLength="43.5" lengthAdjust="spacingAndGlyphs" xml:space="preserve">0.416</text>
<text x="27.2" y="173.6" font-family="Liberation Sans, sans-serif" font-size="16.8" fill="#131722" text-anchor="start" font-weight="normal" textLength="227.2" lengthAdjust="spacingAndGlyphs" xml:space="preserve">SMA (200, close, 0, SMA, 20)</text>
<text x="266.6" y="173.6" font-family="Liberation Sans, sans-serif" font-size="16.8" fill="#ab47bc" text-anchor="start" font-weight="normal" textLength="43.4" lengthAdjust="spacingAndGlyphs" xml:space="preserve">0.416</text>
<text x="27.2" y="199.5" font-family="Liberation Sans, sans-serif" font-size="16.8" fill="#131722" text-anchor="start" font-weight="normal" textLength="23" lengthAdjust="spacingAndGlyphs" xml:space="preserve">Vol</text>
<text x="63.1" y="199.5" font-family="Liberation Sans, sans-serif" font-size="16.8" fill="#26a69a" text-anchor="start" font-weight="normal" textLength="42" lengthAdjust="spacingAndGlyphs" xml:space="preserve">2.332</text>
<text x="107.5" y="199.5" font-family="Liberation Sans, sans-serif" font-size="16.8" fill="#26a69a" text-anchor="start" font-weight="normal" textLength="14.3" lengthAdjust="spacingAndGlyphs" xml:space="preserve">M</text>
<text x="27.2" y="612" font-family="Liberation Sans, sans-serif" font-size="16.8" fill="#131722" text-anchor="start" font-weight="normal" textLength="278" lengthAdjust="spacingAndGlyphs" xml:space="preserve">MACD (12, 26, close, 9, EMA, EMA)</text>
<text x="316.5" y="612" font-family="Liberation Sans, sans-serif" font-size="16.8" fill="#ff5252" text-anchor="start" font-weight="normal" textLength="53" lengthAdjust="spacingAndGlyphs" xml:space="preserve">−0.002</text>
<text x="381" y="612" font-family="Liberation Sans, sans-serif" font-size="16.8" fill="#2962ff" text-anchor="start" font-weight="normal" textLength="43.5" lengthAdjust="spacingAndGlyphs" xml:space="preserve">0.016</text>
<text x="436" y="612" font-family="Liberation Sans, sans-serif" font-size="16.8" fill="#f23645" text-anchor="start" font-weight="normal" textLength="43.5" lengthAdjust="spacingAndGlyphs" xml:space="preserve">0.018</text>
<text x="27.2" y="710" font-family="Liberation Sans, sans-serif" font-size="16.8" fill="#131722" text-anchor="start" font-weight="normal" textLength="210" lengthAdjust="spacingAndGlyphs" xml:space="preserve">RSI (14, close, SMA, 14, 2)</text>
<text x="249.5" y="710" font-family="Liberation Sans, sans-serif" font-size="16.8" fill="#f0487a" text-anchor="start" font-weight="normal" textLength="43.5" lengthAdjust="spacingAndGlyphs" xml:space="preserve">64.98</text>
<text x="304.5" y="710" font-family="Liberation Sans, sans-serif" font-size="16.8" fill="#ffeb3b" text-anchor="start" font-weight="normal" textLength="43.5" lengthAdjust="spacingAndGlyphs" xml:space="preserve">68.19</text>
<text x="360" y="710" font-family="Liberation Sans, sans-serif" font-size="16.8" fill="#50535e" text-anchor="start" font-weight="normal" textLength="11" lengthAdjust="spacingAndGlyphs" xml:space="preserve">∅</text>
<text x="383" y="710" font-family="Liberation Sans, sans-serif" font-size="16.8" fill="#50535e" text-anchor="start" font-weight="normal" textLength="11" lengthAdjust="spacingAndGlyphs" xml:space="preserve">∅</text>
<text x="160.53" y="786.8" font-family="Liberation Sans, sans-serif" font-size="16.8" fill="#131722" text-anchor="middle" font-weight="normal" textLength="29.1" lengthAdjust="spacingAndGlyphs" xml:space="preserve">Dec</text>
<text x="547.36" y="786.8" font-family="Liberation Sans, sans-serif" font-size="16.8" fill="#131722" text-anchor="middle" font-weight="normal" textLength="28.8" lengthAdjust="spacingAndGlyphs" xml:space="preserve">Feb</text>
<text x="726.62" y="786.8" font-family="Liberation Sans, sans-serif" font-size="16.8" fill="#131722" text-anchor="middle" font-weight="normal" textLength="29" lengthAdjust="spacingAndGlyphs" xml:space="preserve">Mar</text>
<text x="915.33" y="786.8" font-family="Liberation Sans, sans-serif" font-size="16.8" fill="#131722" text-anchor="middle" font-weight="normal" textLength="27.8" lengthAdjust="spacingAndGlyphs" xml:space="preserve">Apr</text>
<text x="1104.03" y="786.8" font-family="Liberation Sans, sans-serif" font-size="16.8" fill="#131722" text-anchor="middle" font-weight="normal" textLength="30.2" lengthAdjust="spacingAndGlyphs" xml:space="preserve">May</text>
<text x="1302.16" y="786.8" font-family="Liberation Sans, sans-serif" font-size="16.8" fill="#131722" text-anchor="middle" font-weight="normal" textLength="26.8" lengthAdjust="spacingAndGlyphs" xml:space="preserve">Jun</text>
<text x="349.23" y="786.8" font-family="Liberation Sans, sans-serif" font-size="16.8" fill="#131722" text-anchor="middle" font-weight="bold" textLength="40.6" lengthAdjust="spacingAndGlyphs" xml:space="preserve">2024</text>
<text x="15.9" y="28.5" font-family="Liberation Sans, sans-serif" font-size="18" fill="#131722" text-anchor="start" font-weight="normal" textLength="113.2" lengthAdjust="spacingAndGlyphs" xml:space="preserve">research_dept</text>
<text x="136.8" y="28.5" font-family="Liberation Sans, sans-serif" font-size="18" fill="#131722" text-anchor="start" font-weight="normal" textLength="75.1" lengthAdjust="spacingAndGlyphs" xml:space="preserve">published</text>
<text x="219.7" y="28.5" font-family="Liberation Sans, sans-serif" font-size="18" fill="#131722" text-anchor="start" font-weight="normal" textLength="17.7" lengthAdjust="spacingAndGlyphs" xml:space="preserve">on</text>
<text x="244.1" y="28.5" font-family="Liberation Sans, sans-serif" font-size="18" fill="#131722" text-anchor="start" font-weight="normal" textLength="139.2" lengthAdjust="spacingAndGlyphs" xml:space="preserve">TradingView.com,</text>
<text x="392" y="28.5" font-family="Liberation Sans, sans-serif" font-size="18" fill="#131722" text-anchor="start" font-weight="normal" textLength="27.3" lengthAdjust="spacingAndGlyphs" xml:space="preserve">Jun</text>
<text x="426" y="28.5" font-family="Liberation Sans, sans-serif" font-size="18" fill="#131722" text-anchor="start" font-weight="normal" textLength="23" lengthAdjust="spacingAndGlyphs" xml:space="preserve">09,</text>
<text x="456.6" y="28.5" font-family="Liberation Sans, sans-serif" font-size="18" fill="#131722" text-anchor="start" font-weight="normal" textLength="36.6" lengthAdjust="spacingAndGlyphs" xml:space="preserve">2024</text>
<text x="499.9" y="28.5" font-family="Liberation Sans, sans-serif" font-size="18" fill="#131722" text-anchor="start" font-weight="normal" textLength="42.3" lengthAdjust="spacingAndGlyphs" xml:space="preserve">05:58</text>
<text x="549.2" y="28.5" font-family="Liberation Sans, sans-serif" font-size="18" fill="#131722" text-anchor="start" font-weight="normal" textLength="51" lengthAdjust="spacingAndGlyphs" xml:space="preserve">UTC+8</text>
<text x="49.9" y="834.6" font-family="Liberation Sans, sans-serif" font-size="19.5" fill="#131722" text-anchor="start" font-weight="normal" textLength="105.4" lengthAdjust="spacingAndGlyphs" xml:space="preserve">TradingView</text>
<path d="M15 819.2 H26.5 V833.85 H20.95 V824.65 H15 Z" fill="#131722"/>
<circle cx="31.5" cy="822.55" r="3.35" fill="#131722"/>
<path d="M38.1 819.2 H44.6 L38.65 833.85 H31.95 Z" fill="#131722"/>
</svg>
</body></html>
